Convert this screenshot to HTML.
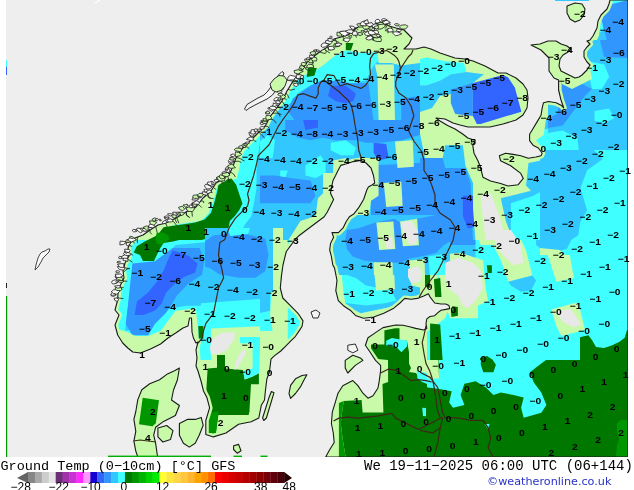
<!DOCTYPE html>
<html><head><meta charset="utf-8"><style>
html,body{margin:0;padding:0;background:#fff;width:634px;height:490px;overflow:hidden;position:relative}
</style></head><body>
<svg width="634" height="490" viewBox="0 0 634 490" style="position:absolute;left:0;top:0">
<defs><clipPath id="land"><polygon points="269.4,372.2 266.9,378.8 266.1,385.3 265.3,391.8 264.5,400.0 261.3,405.3 258.8,418.0 251.2,421.7 238.6,424.3 226.0,433.0 213.4,436.9 205.8,434.4 205.8,430.6 205.8,420.5 209.6,407.9 207.0,397.8 203.5,391.0 201.0,381.0 198.0,371.0 196.0,366.0 197.0,358.0 196.0,350.0 198.0,342.0 196.0,343.0 193.4,338.0 192.0,332.0 191.5,318.0 189.5,318.0 188.0,326.0 183.0,328.0 175.7,333.0 168.0,338.0 160.6,344.0 150.5,349.0 140.4,353.0 132.8,352.0 127.8,348.0 122.7,343.0 117.7,335.0 115.0,325.0 119.0,315.0 115.0,310.0 117.7,300.0 118.0,293.0 120.0,286.0 124.0,278.0 123.0,271.0 125.0,263.0 129.0,256.0 128.0,248.0 130.0,243.0 135.0,238.0 143.0,235.0 150.0,230.0 158.0,225.0 166.0,223.0 176.0,218.0 186.0,212.0 196.0,207.0 203.0,198.0 211.0,191.0 216.0,183.0 223.0,179.0 230.0,173.0 233.0,166.0 236.0,158.0 241.2,149.8 247.3,143.7 253.5,137.6 259.6,131.4 265.7,125.3 269.8,117.1 275.9,109.0 282.0,100.8 287.0,91.0 293.4,80.5 301.0,70.4 308.5,60.3 318.6,52.7 326.0,48.0 334.0,39.0 348.0,35.0 356.0,28.0 366.0,24.0 372.0,24.0 373.0,40.0 375.0,24.0 381.0,22.0 389.0,26.0 396.0,28.0 404.0,30.0 412.0,38.0 409.0,44.0 404.0,49.0 416.0,49.0 424.0,47.0 431.0,49.0 440.0,53.0 455.0,58.0 465.0,59.0 473.0,61.0 485.0,66.0 498.0,73.0 506.0,73.0 516.0,78.0 523.0,84.0 527.0,90.0 528.0,98.0 527.0,108.0 523.0,115.0 516.0,120.0 503.0,124.0 490.0,127.0 478.0,127.0 468.0,127.0 460.0,125.0 453.0,123.0 445.0,119.0 436.0,118.0 440.0,121.0 447.6,125.4 455.0,129.0 462.7,134.0 467.8,138.0 475.3,140.6 472.8,145.6 474.0,153.2 477.9,160.8 480.4,167.0 482.9,177.2 490.5,181.0 500.6,183.5 508.0,186.0 518.2,184.7 523.3,178.4 520.8,173.4 510.7,165.8 500.6,160.8 499.3,155.7 505.6,153.2 513.2,154.4 520.8,155.7 528.3,158.2 535.9,157.0 541.0,155.7 542.2,153.2 538.4,148.0 533.4,145.6 529.6,140.6 529.6,134.3 533.4,128.0 537.2,121.6 541.0,115.3 542.2,107.8 543.5,102.7 548.5,101.5 556.1,102.7 561.1,105.2 563.7,107.8 561.0,100.0 558.6,90.0 558.6,80.0 554.0,78.0 549.0,71.0 549.0,58.0 541.0,50.0 531.0,45.0 540.0,44.0 548.0,41.0 556.0,41.0 561.0,44.0 567.0,46.0 571.0,49.0 568.0,52.0 563.0,55.0 560.0,59.0 559.0,66.0 561.0,71.0 565.0,73.0 571.0,76.0 575.0,78.0 579.0,77.0 582.0,75.0 587.0,70.0 590.0,65.0 587.0,62.0 584.0,57.0 584.0,51.0 587.0,47.0 590.0,44.0 587.0,41.0 590.0,40.0 593.0,36.0 597.0,28.0 598.0,21.0 601.0,15.0 607.0,9.0 609.0,4.0 610.0,0.0 628.0,0.0 628.0,457.0 325.7,457.0 329.5,450.0 334.2,442.5 333.3,433.0 331.4,423.5 332.3,412.2 335.2,402.7 338.0,393.2 342.8,385.7 352.8,380.6 357.9,385.6 362.9,393.2 368.0,398.2 373.0,395.7 378.0,388.0 379.3,380.6 380.6,370.5 380.6,365.4 375.5,360.4 370.5,352.8 365.4,345.2 368.0,337.7 375.5,332.6 383.0,327.6 395.7,325.0 403.0,325.2 409.5,326.8 415.8,328.4 423.7,330.0 426.8,328.4 426.0,323.6 426.8,318.9 430.0,316.5 434.7,315.7 437.9,312.6 441.0,310.2 445.7,309.4 449.7,308.6 449.0,305.5 445.7,304.0 441.0,304.0 434.7,303.0 430.0,296.8 428.4,293.7 423.7,296.0 417.4,298.4 411.0,299.2 404.7,298.4 400.0,303.0 393.8,308.2 383.8,313.3 373.7,317.0 363.6,318.3 356.0,315.8 351.0,310.8 343.4,305.7 338.3,300.7 335.8,290.6 337.0,280.5 334.5,267.9 332.8,265.0 331.3,256.2 329.7,250.0 330.5,243.6 333.6,237.3 332.0,232.6 338.4,232.6 343.1,227.9 346.2,221.5 349.4,216.8 354.1,213.7 358.9,207.4 363.6,199.5 366.8,190.0 368.4,187.0 371.0,185.6 374.7,183.0 373.5,175.5 371.0,168.0 366.0,163.0 360.9,160.4 353.3,161.6 345.7,164.0 340.7,165.4 338.0,170.5 335.6,175.5 333.0,180.6 331.8,186.0 330.5,193.2 333.6,199.5 330.5,205.8 327.3,212.0 324.2,216.8 317.9,221.5 311.5,226.3 305.2,231.0 298.9,235.7 294.2,240.5 291.0,245.2 286.3,251.5 284.7,257.8 283.0,265.0 281.5,275.4 280.3,288.0 282.8,298.0 290.4,305.7 298.0,313.3 303.0,320.9 302.0,326.5 298.8,331.4 295.5,336.3 290.6,341.2 285.7,346.1 280.8,351.0 274.3,355.9 271.0,359.2 270.2,365.7"/><polygon points="137.8,457.0 135.8,451.1 133.9,441.2 135.8,431.3 133.9,419.4 135.8,411.5 137.8,399.6 141.8,389.7 149.7,383.8 159.6,379.8 167.5,373.9 175.0,370.5 179.4,368.0 177.4,380.0 173.5,390.0 171.5,400.0 179.4,405.5 175.4,415.5 163.6,421.4 155.6,427.3 153.7,435.2 155.6,443.2 157.6,457.0"/><polygon points="179.4,423.4 187.3,419.4 195.2,419.4 201.2,417.4 203.2,425.3 199.2,435.2 195.2,443.2 189.3,447.1 183.4,443.2 179.4,435.2"/><polygon points="157.9,428.0 166.7,425.5 173.0,430.6 170.5,439.4 162.9,442.0 157.9,436.9"/><polygon points="271.4,391.5 274.0,392.7 266.4,418.0 263.8,420.5 262.6,418.0 268.9,397.8"/><polygon points="233.6,445.7 238.6,444.4 241.0,450.8 237.4,453.3 233.6,449.5"/><polygon points="290.6,385.3 295.5,378.8 302.0,375.5 306.9,374.7 303.7,380.4 300.4,386.9 295.5,393.5 290.6,398.4 289.0,393.5"/><polygon points="345.2,360.4 352.8,355.3 360.4,357.9 362.9,360.4 355.3,365.4 347.8,373.0 345.2,368.0"/><polygon points="567.0,6.0 575.0,3.0 582.0,4.0 585.0,9.0 584.0,15.0 580.0,20.0 575.0,22.0 570.0,19.0 567.0,13.0"/></clipPath><clipPath id="mapc"><rect x="6" y="0" width="622" height="457"/></clipPath><clipPath id="t0"><rect x="100" y="0" width="160" height="120"/></clipPath><clipPath id="t1"><rect x="260" y="0" width="160" height="120"/></clipPath><clipPath id="t2"><rect x="420" y="0" width="160" height="120"/></clipPath><clipPath id="t3"><rect x="580" y="0" width="48" height="120"/></clipPath><clipPath id="t4"><rect x="100" y="120" width="160" height="120"/></clipPath><clipPath id="t5"><rect x="260" y="120" width="160" height="120"/></clipPath><clipPath id="t6"><rect x="420" y="120" width="160" height="120"/></clipPath><clipPath id="t7"><rect x="580" y="120" width="48" height="120"/></clipPath><clipPath id="t8"><rect x="100" y="240" width="160" height="120"/></clipPath><clipPath id="t9"><rect x="260" y="240" width="160" height="120"/></clipPath><clipPath id="t10"><rect x="420" y="240" width="160" height="120"/></clipPath><clipPath id="t11"><rect x="580" y="240" width="48" height="120"/></clipPath><clipPath id="t12"><rect x="100" y="360" width="160" height="97"/></clipPath><clipPath id="t13"><rect x="260" y="360" width="160" height="97"/></clipPath><clipPath id="t14"><rect x="420" y="360" width="160" height="97"/></clipPath><clipPath id="t15"><rect x="580" y="360" width="48" height="97"/></clipPath><clipPath id="t16"><rect x="330" y="320" width="97" height="137"/></clipPath><clipPath id="t17"><rect x="333" y="215" width="117" height="60"/></clipPath><clipPath id="t18"><rect x="548" y="40" width="80" height="120"/></clipPath><clipPath id="t19"><rect x="205" y="228" width="78" height="64"/></clipPath><clipPath id="t20"><rect x="420" y="50" width="112" height="80"/></clipPath><clipPath id="t21"><rect x="540" y="150" width="88" height="105"/></clipPath></defs>
<rect x="6" y="0" width="622" height="457" fill="#eeeeee"/>
<g clip-path="url(#mapc)">
<g clip-path="url(#land)">
<rect x="0" y="0" width="634" height="457" fill="#c8faaa"/>
<g clip-path="url(#t0)">
<rect x="100" y="0" width="160" height="120" fill="#c8faaa"/>
<polygon points="250.0,112.0 262.0,100.0 262.0,122.0 245.0,122.0" fill="#40ffff"/>
</g>
<g clip-path="url(#t1)">
<rect x="260" y="0" width="160" height="120" fill="#32c8ff"/>
<polygon points="290.3,85.8 297.9,78.0 315.5,70.4 323.1,65.4 335.7,55.3 345.8,50.2 358.4,52.7 371.0,52.7 377.4,51.7 378.6,60.6 373.6,65.6 371.0,70.4 366.0,80.5 353.6,83.0 341.0,83.0 323.1,80.5 310.5,85.6 297.9,93.1 290.3,103.2 285.2,106.0 275.1,108.5 270.1,120.1 260.0,120.1 260.0,95.9 275.1,90.9" fill="#40ffff"/>
<polygon points="257.5,0.0 420.0,0.0 420.0,63.1 401.3,65.6 391.2,63.1 378.6,63.1 377.4,51.7 371.0,52.7 358.4,52.7 345.8,50.2 335.7,55.3 323.1,65.4 315.5,70.4 297.9,78.0 290.3,85.8 257.5,90.9" fill="#c8faaa"/>
<polygon points="374.8,64.4 393.8,64.4 395.0,121.1 378.6,121.1 377.4,75.7" fill="#c8faaa"/>
<polygon points="292.8,98.4 310.5,85.8 320.6,80.8 335.7,80.8 350.9,83.3 368.5,83.3 373.6,121.1 295.3,121.1 287.8,111.0" fill="#3296ff"/>
<polygon points="330.7,85.8 345.8,85.8 355.9,93.4 353.4,100.9 345.8,103.5 335.7,100.9 328.1,95.9" fill="#3264ff"/>
<polygon points="401.3,98.4 420.0,95.9 420.0,121.1 401.3,121.1" fill="#3296ff"/>
<polygon points="345.8,42.9 353.4,42.9 350.9,50.5 345.8,50.0" fill="#007800"/>
<polygon points="307.9,68.1 316.8,68.1 314.3,75.7 306.7,77.0" fill="#007800"/>
</g>
<g clip-path="url(#t2)">
<rect x="420" y="0" width="160" height="120" fill="#c8faaa"/>
<polygon points="420.0,60.6 440.2,58.0 465.4,60.6 467.9,70.7 483.1,70.7 483.1,75.7 465.4,80.8 450.3,85.8 435.1,88.3 420.0,88.3" fill="#40ffff"/>
<polygon points="435.1,75.7 465.4,73.2 483.1,73.2 503.3,75.7 500.8,80.8 483.1,83.3 470.5,85.8 457.9,88.3 447.8,95.9 447.8,106.0 435.1,108.5 430.1,100.9 420.0,98.4 420.0,88.3" fill="#32c8ff"/>
<polygon points="418.7,63.1 427.6,60.6 432.6,75.7 430.1,121.1 418.7,121.1" fill="#32c8ff"/>
<polygon points="447.8,88.3 470.5,83.3 503.3,78.2 505.8,85.8 498.2,85.8 483.1,88.3 470.5,95.9 465.4,106.0 465.4,120.1 450.3,120.1 447.8,106.0" fill="#3296ff"/>
<polygon points="470.5,88.3 503.3,77.0 513.4,83.3 520.9,111.0 490.7,113.6 473.0,118.6 465.4,111.0 470.5,95.9" fill="#3264ff"/>
<polygon points="430.1,106.0 460.4,106.0 470.5,118.6 541.1,111.0 541.1,121.1 430.1,121.1" fill="#c8faaa"/>
<polygon points="560.1,80.8 580.0,75.7 580.0,121.1 556.3,121.1 561.3,106.0" fill="#3296ff"/>
</g>
<g clip-path="url(#t3)">
<rect x="580" y="0" width="48" height="120" fill="#40ffff"/>
<polygon points="608.1,5.0 628.0,0.0 628.0,63.1 619.4,61.8 609.3,50.5 604.3,32.8 601.8,20.2" fill="#3296ff"/>
<polygon points="594.2,35.3 604.3,30.3 609.3,50.5 619.4,61.8 628.0,63.1 628.0,75.7 609.3,75.7 599.2,63.1 591.7,50.5" fill="#32c8ff"/>
<polygon points="579.0,0.0 604.3,0.0 601.8,10.1 599.2,25.2 599.2,35.3 591.7,50.5 589.1,60.6 594.2,73.2 594.2,83.3 579.0,83.3" fill="#c8faaa"/>
<polygon points="579.0,83.3 599.2,83.3 599.2,95.9 589.1,106.0 579.0,111.0" fill="#3296ff"/>
</g>
<g clip-path="url(#t4)">
<rect x="100" y="120" width="160" height="120" fill="#40ffff"/>
<polygon points="97.5,117.5 260.0,117.5 260.0,127.6 251.4,135.1 246.4,145.2 241.3,157.9 238.8,170.5 236.3,179.3 218.6,180.6 216.1,190.7 213.6,200.8 208.5,213.4 200.9,220.9 183.3,223.5 170.7,226.0 163.1,231.0 150.5,241.1 97.5,241.1" fill="#c8faaa"/>
<polygon points="260.0,140.2 260.0,241.1 241.3,241.1 243.8,226.0 251.4,215.9 253.9,203.3 256.5,188.1 256.5,170.5" fill="#32c8ff"/>
<polygon points="222.0,180.0 231.5,178.4 236.2,184.7 239.3,194.2 242.5,203.6 239.3,210.0 234.6,216.2 229.9,221.0 228.3,228.9 220.4,233.6 214.1,236.8 201.5,239.9 188.9,239.9 179.4,239.9 173.1,241.5 163.6,243.1 160.5,247.8 157.3,254.0 154.0,261.0 143.0,261.0 140.0,255.0 133.7,252.5 136.8,246.2 144.7,241.5 157.3,235.2 163.6,227.3 173.1,225.7 185.7,224.1 195.2,222.6 204.6,219.4 210.9,213.1 214.1,203.6 217.3,191.0 218.8,183.1" fill="#007800"/>
<polygon points="156.5,233.2 162.2,232.3 167.8,235.1 169.7,238.9 166.0,241.8 161.2,244.6 156.5,243.7 155.5,238.9" fill="#009600"/>
</g>
<g clip-path="url(#t5)">
<rect x="260" y="120" width="160" height="120" fill="#32c8ff"/>
<polygon points="285.2,118.7 420.0,118.7 420.0,135.1 401.3,140.2 381.1,142.7 366.0,142.7 355.9,140.2 335.7,140.2 323.1,137.7 310.5,140.2 297.9,137.7 285.2,130.1" fill="#3296ff"/>
<polygon points="302.9,118.7 318.0,118.7 318.0,127.6 305.4,130.1" fill="#3264ff"/>
<polygon points="373.6,142.7 386.2,144.0 388.7,157.9 378.6,160.4 373.6,152.8" fill="#3264ff"/>
<polygon points="330.7,142.7 345.8,140.2 355.9,147.8 353.4,155.3 340.8,155.3 330.7,150.3" fill="#40ffff"/>
<polygon points="305.4,165.4 320.6,155.3 325.6,162.9 325.6,173.0 315.5,178.0 305.4,175.5" fill="#40ffff"/>
<polygon points="280.2,170.5 287.8,170.5 285.2,178.0 280.2,178.0" fill="#40ffff"/>
<polygon points="258.7,142.7 267.6,135.1 275.1,140.2 272.6,157.9 258.7,157.9" fill="#40ffff"/>
<polygon points="258.7,175.5 275.1,175.5 290.3,178.0 310.5,180.6 315.5,195.7 310.5,203.3 285.2,203.3 258.7,203.3" fill="#3296ff"/>
<polygon points="371.0,165.4 421.5,162.9 421.5,241.1 371.0,241.1" fill="#3296ff"/>
<polygon points="395.0,141.5 412.7,140.2 413.9,166.7 397.5,167.9" fill="#c8faaa"/>
<polygon points="383.7,183.1 401.3,181.8 402.6,205.8 386.2,207.1" fill="#c8faaa"/>
<polygon points="376.1,220.9 393.8,222.2 393.8,241.1 376.1,241.1" fill="#c8faaa"/>
<polygon points="401.3,219.7 421.5,218.4 421.5,241.1 401.3,241.1" fill="#c8faaa"/>
<polygon points="333.2,160.4 345.8,157.9 345.8,241.1 287.8,241.1 300.4,220.9 315.5,215.9 318.0,198.2 323.1,193.2 323.1,173.0 333.2,173.0" fill="#c8faaa"/>
<polygon points="360.9,157.9 378.6,157.9 378.6,195.7 371.0,200.8 368.5,220.9 360.9,226.0 355.9,241.1 343.3,241.1 355.9,210.9 366.0,190.7" fill="#c8faaa"/>
</g>
<g clip-path="url(#t6)">
<rect x="420" y="120" width="160" height="120" fill="#32c8ff"/>
<polygon points="536.1,130.1 561.3,127.6 561.3,147.8 543.7,157.9 536.1,150.3" fill="#40ffff"/>
<polygon points="510.9,203.3 533.6,195.7 551.2,185.6 581.5,183.1 581.5,241.1 510.9,241.1" fill="#40ffff"/>
<polygon points="418.7,157.9 442.7,157.9 445.2,167.9 465.4,167.9 470.5,183.1 473.0,241.1 418.7,241.1" fill="#3296ff"/>
<polygon points="462.9,195.7 475.5,195.7 478.0,226.0 467.9,228.5 462.9,215.9" fill="#3264ff"/>
<polygon points="418.7,127.6 435.1,118.7 546.2,118.7 543.7,135.1 536.1,140.2 546.2,152.8 541.1,160.4 528.5,162.9 526.0,185.6 531.0,190.7 500.8,198.2 505.8,220.9 513.4,241.1 475.5,241.1 473.0,208.3 473.0,183.1 465.4,165.4 462.9,145.2 445.2,145.2 442.7,157.9 425.0,157.9" fill="#c8faaa"/>
</g>
<g clip-path="url(#t7)">
<rect x="580" y="120" width="48" height="120" fill="#40ffff"/>
<polygon points="579.0,118.7 606.8,118.7 589.1,135.1 591.7,145.2 601.8,160.4 586.6,170.5 581.6,185.6 586.6,203.3 579.0,215.9 576.5,226.0 579.0,241.1" fill="#32c8ff"/>
</g>
<g clip-path="url(#t8)">
<rect x="100" y="240" width="160" height="120" fill="#40ffff"/>
<polygon points="130.2,288.0 145.3,275.4 160.5,260.3 175.6,245.1 228.6,240.1 271.5,235.0 271.5,300.7 226.1,305.7 200.9,305.7 185.7,305.7 160.5,310.8 142.8,325.9 125.1,330.9" fill="#32c8ff"/>
<polygon points="132.4,263.5 154.9,261.2 172.8,248.0 199.7,248.0 204.2,261.2 202.0,274.7 188.5,283.6 177.3,294.9 170.6,306.1 166.1,312.8 154.9,324.0 148.1,335.2 132.4,335.2 125.7,324.0 127.9,306.1 130.2,283.6" fill="#3296ff"/>
<polygon points="172.8,250.2 188.5,255.7 197.5,263.5 195.2,272.4 184.0,276.9 175.0,283.6 166.1,292.6 161.6,303.8 154.9,310.6 143.6,315.1 134.7,315.1 136.9,301.6 148.1,292.6 157.1,281.4 163.8,270.2 168.3,259.0" fill="#3264ff"/>
<polygon points="228.6,255.2 251.3,255.2 251.3,280.5 228.6,280.5" fill="#3296ff"/>
<polygon points="200.9,303.2 271.5,298.1 271.5,363.8 200.9,363.8" fill="#40ffff"/>
<polygon points="99.9,325.9 125.1,330.9 135.2,336.0 147.9,336.0 160.5,330.9 175.6,310.8 195.8,308.2 198.3,330.9 200.9,363.8 99.9,363.8" fill="#c8faaa"/>
<polygon points="210.9,328.4 271.5,325.9 271.5,363.8 210.9,363.8" fill="#c8faaa"/>
<polygon points="198.3,325.9 203.4,325.9 203.4,338.5 198.8,338.5" fill="#007800"/>
<polygon points="222.0,180.0 231.5,178.4 236.2,184.7 239.3,194.2 242.5,203.6 239.3,210.0 234.6,216.2 229.9,221.0 228.3,228.9 220.4,233.6 214.1,236.8 201.5,239.9 188.9,239.9 179.4,239.9 173.1,241.5 163.6,243.1 160.5,247.8 157.3,254.0 154.0,261.0 143.0,261.0 140.0,255.0 133.7,252.5 136.8,246.2 144.7,241.5 157.3,235.2 163.6,227.3 173.1,225.7 185.7,224.1 195.2,222.6 204.6,219.4 210.9,213.1 214.1,203.6 217.3,191.0 218.8,183.1" fill="#007800"/>
<polygon points="156.5,233.2 162.2,232.3 167.8,235.1 169.7,238.9 166.0,241.8 161.2,244.6 156.5,243.7 155.5,238.9" fill="#009600"/>
<polygon points="217.0,355.1 225.0,355.1 225.0,368.5 243.0,370.0 244.7,379.6 252.6,376.4 258.9,373.3 258.9,384.3 251.0,384.3 249.4,412.0 211.5,412.0 206.0,395.4 207.6,368.5 217.0,367.8" fill="#007800"/>
<polygon points="240.0,337.0 268.3,337.0 267.5,341.7 260.4,343.3 258.9,373.3 252.6,376.4 244.7,379.6 243.0,370.9 252.6,368.5 252.6,343.3 240.0,343.3" fill="#40ffff"/>
</g>
<g clip-path="url(#t9)">
<rect x="260" y="240" width="160" height="120" fill="#40ffff"/>
<polygon points="258.7,270.3 270.1,272.8 270.1,310.7 258.7,313.2" fill="#32c8ff"/>
<polygon points="270.1,238.7 287.8,238.7 287.8,361.1 258.7,361.1 258.7,330.9 272.6,330.9 270.1,315.7 272.6,265.2" fill="#c8faaa"/>
<polygon points="323.1,238.7 421.5,238.7 421.5,300.6 386.2,308.1 360.9,313.2 323.1,313.2" fill="#32c8ff"/>
<polygon points="345.8,238.7 378.6,238.7 378.6,250.1 396.3,255.1 421.5,255.1 421.5,265.2 396.3,265.2 376.1,262.7 360.9,260.2 345.8,255.1" fill="#3296ff"/>
<polygon points="340.8,272.8 355.9,277.9 366.0,285.4 391.2,290.5 396.3,300.6 386.2,303.1 366.0,305.6 345.8,303.1 340.8,290.5" fill="#40ffff"/>
<polygon points="323.1,238.7 338.2,238.7 340.8,265.2 343.3,290.5 345.8,305.6 360.9,313.2 386.2,308.1 421.5,298.0 421.5,323.3 323.1,323.3" fill="#c8faaa"/>
<polygon points="373.6,265.2 393.8,264.0 395.0,289.2 376.1,290.5" fill="#c8faaa"/>
<polygon points="378.6,238.7 396.3,238.7 397.5,250.1 379.9,250.1" fill="#c8faaa"/>
<polygon points="408.9,262.7 421.5,260.2 421.5,287.9 411.4,285.4" fill="#c8faaa"/>
<polygon points="335.7,323.3 421.5,323.3 421.5,361.1 335.7,361.1" fill="#c8faaa"/>
<polygon points="383.7,330.9 398.8,328.3 400.1,338.4 406.4,340.9 407.6,351.0 401.3,361.1 371.0,361.1 371.0,346.0 383.7,340.9" fill="#007800"/>
<polygon points="386.2,339.7 400.1,338.4 406.4,340.9 407.6,351.0 396.3,351.0 386.2,346.0" fill="#40ffff"/>
</g>
<g clip-path="url(#t10)">
<rect x="420" y="240" width="160" height="120" fill="#40ffff"/>
<polygon points="418.7,228.7 475.5,228.7 475.5,245.1 460.4,250.2 435.1,252.7 418.7,252.7" fill="#3296ff"/>
<polygon points="418.7,245.1 475.5,245.1 475.5,257.8 418.7,257.8" fill="#32c8ff"/>
<polygon points="536.1,228.7 581.5,228.7 581.5,250.2 546.2,252.7 536.1,245.1" fill="#32c8ff"/>
<polygon points="435.1,255.2 460.4,252.7 483.1,260.3 485.6,288.0 488.1,300.7 478.0,305.7 478.0,318.3 450.3,318.3 445.2,305.7 440.2,293.1 437.7,267.9" fill="#c8faaa"/>
<polygon points="407.4,259.0 435.1,257.8 440.2,293.1 447.8,310.8 445.2,318.3 435.1,325.9 407.4,325.9" fill="#c8faaa"/>
<polygon points="475.5,228.7 515.9,228.7 526.0,250.2 532.3,275.4 508.3,281.7 500.8,260.3 493.2,245.1 480.6,245.1" fill="#c8faaa"/>
<polygon points="508.3,281.7 532.3,275.4 536.1,280.5 531.0,290.6 520.9,291.8 510.9,285.5" fill="#32c8ff"/>
<polygon points="547.4,254.0 568.9,250.2 573.9,277.9 556.3,281.7" fill="#c8faaa"/>
<polygon points="551.2,309.5 573.9,303.2 581.5,303.2 581.5,330.9 561.3,336.0 556.3,325.9" fill="#c8faaa"/>
<polygon points="425.0,272.9 430.1,274.2 430.1,288.0 425.0,286.8" fill="#007800"/>
<polygon points="433.9,279.2 440.2,277.9 441.5,296.9 435.1,296.9" fill="#007800"/>
<polygon points="450.3,305.7 457.9,307.0 457.9,315.8 451.5,317.1" fill="#007800"/>
<polygon points="430.1,323.4 440.2,324.6 442.7,361.2 430.1,361.2" fill="#007800"/>
<polygon points="486.9,265.3 491.9,265.3 491.9,272.9 487.6,272.9" fill="#007800"/>
<polygon points="480.0,358.0 487.0,356.0 496.0,362.0 494.0,372.0 484.0,374.0 480.0,366.0" fill="#007800"/>
</g>
<g clip-path="url(#t11)">
<rect x="580" y="240" width="48" height="120" fill="#40ffff"/>
<polygon points="551.5,309.1 578.6,304.0 585.1,329.8 559.2,336.3" fill="#c8faaa"/>
<polygon points="578.0,337.8 583.0,336.5 588.4,335.2 592.3,340.4 596.0,346.9 604.0,348.1 611.7,345.6 619.5,341.7 624.7,337.8 627.0,330.0 630.0,330.0 630.0,370.0 578.0,370.0" fill="#007800"/>
</g>
<g clip-path="url(#t12)">
<rect x="100" y="360" width="160" height="97" fill="#c8faaa"/>
<polygon points="217.0,355.1 225.0,355.1 225.0,368.5 243.0,370.0 244.7,379.6 252.6,376.4 258.9,373.3 258.9,384.3 251.0,384.3 249.4,412.0 211.5,412.0 206.0,395.4 207.6,368.5 217.0,367.8" fill="#007800"/>
<polygon points="240.0,337.0 268.3,337.0 267.5,341.7 260.4,343.3 258.9,373.3 252.6,376.4 244.7,379.6 243.0,370.9 252.6,368.5 252.6,343.3 240.0,343.3" fill="#40ffff"/>
<polygon points="211.5,411.0 249.4,411.0 248.7,415.0 218.4,415.0 215.9,433.0 207.0,435.6 209.6,413.0" fill="#007800"/>
<polygon points="208.3,413.0 218.4,411.6 215.9,433.0 207.0,434.4" fill="#009600"/>
<polygon points="142.7,397.8 159.0,400.3 155.3,426.8 139.0,424.3" fill="#009600"/>
</g>
<g clip-path="url(#t13)">
<rect x="260" y="360" width="160" height="97" fill="#c8faaa"/>
<polygon points="384.4,328.5 399.5,327.6 399.5,340.8 407.1,340.8 409.0,352.2 409.0,363.5 414.6,369.2 418.4,376.8 426.0,380.6 433.6,384.4 441.1,384.4 441.1,452.5 383.4,452.5 383.4,376.8 388.1,373.0 388.1,359.7 374.9,358.8 371.1,352.2 371.1,344.6 384.4,344.6" fill="#007800"/>
<polygon points="338.9,401.4 360.7,399.5 361.6,410.1 338.0,410.1" fill="#007800"/>
<polygon points="339.0,400.0 380.0,395.0 380.0,460.0 339.0,460.0" fill="#007800"/>
<polygon points="333.0,418.0 339.0,404.0 346.5,410.0 346.5,460.0 333.0,460.0" fill="#009600"/>
<polygon points="417.5,376.8 426.0,378.7 441.1,382.5 441.1,388.1 426.0,386.2 417.5,382.5" fill="#40ffff"/>
</g>
<g clip-path="url(#t14)">
<rect x="420" y="360" width="160" height="97" fill="#007800"/>
<polygon points="437.9,335.7 561.5,335.7 561.5,352.1 546.4,359.7 536.3,367.3 530.0,372.3 533.8,382.4 541.3,392.5 546.4,405.1 541.3,412.7 523.7,417.8 521.1,407.7 523.7,397.6 513.6,395.0 500.9,392.5 493.4,395.0 485.8,387.5 475.7,381.2 464.4,383.7 460.6,395.0 464.4,405.1 453.0,407.7 449.2,402.6 451.7,391.3 437.9,388.7 427.8,387.5 418.9,381.2 418.9,374.9 439.1,377.4" fill="#40ffff"/>
<polygon points="480.8,355.9 490.9,357.2 495.9,364.8 493.4,372.3 483.3,372.3 480.8,364.8" fill="#007800"/>
<polygon points="407.6,335.7 422.7,335.7 427.8,352.1 437.9,352.1 439.1,378.6 418.9,378.6 417.7,367.3 410.1,362.2 407.6,352.1" fill="#c8faaa"/>
<polygon points="421.5,407.7 426.5,408.2 426.5,416.5 422.2,415.7" fill="#40ffff"/>
<polygon points="484.5,424.1 489.6,424.1 487.8,429.1" fill="#40ffff"/>
</g>
<g clip-path="url(#t15)">
<rect x="580" y="360" width="48" height="97" fill="#007800"/>
<polygon points="617.0,423.0 621.0,420.0 628.0,420.0 628.0,441.5 620.0,441.5 617.0,432.0" fill="#009600"/>
<polygon points="628.0,430.0 622.0,432.0 617.0,445.0 616.0,457.0 628.0,457.0" fill="#009600"/>
</g>
<g clip-path="url(#t16)">
<rect x="330" y="320" width="97" height="137" fill="#c8faaa"/>
<polygon points="384.4,328.5 399.5,327.6 399.5,340.8 407.0,340.8 409.0,352.2 409.0,363.5 411.0,368.0 409.0,372.0 416.0,373.0 420.0,379.0 440.0,386.0 440.0,457.0 345.6,457.0 342.7,438.9 340.8,423.8 341.8,414.3 343.7,401.0 361.6,400.1 362.6,412.4 383.4,412.4 382.5,384.0 388.1,382.1 388.1,373.0 388.0,360.0 375.0,358.8 371.0,352.0 371.0,344.6 384.4,344.6" fill="#007800"/>
<polygon points="386.2,340.8 391.9,338.0 407.0,340.8 407.0,346.5 401.4,352.2 395.7,346.5 386.2,345.6" fill="#40ffff"/>
<polygon points="416.5,370.8 426.0,372.7 433.6,378.4 440.0,380.2 440.0,387.8 431.7,385.9 422.2,382.1 417.5,378.4" fill="#40ffff"/>
<polygon points="338.9,403.0 343.7,401.0 341.8,414.3 340.8,423.8 342.7,438.9 345.6,457.0 338.9,457.0" fill="#009600"/>
<polygon points="422.2,407.7 426.0,408.0 426.0,416.2 423.0,416.0" fill="#40ffff"/>
</g>
<g clip-path="url(#t17)">
<rect x="333" y="215" width="117" height="60" fill="#32c8ff"/>
<polygon points="347.0,230.1 358.4,228.2 375.4,222.6 394.4,218.8 400.0,222.6 417.1,218.8 436.0,215.0 450.0,215.0 450.0,241.5 443.6,245.3 436.0,252.9 420.9,256.6 409.5,258.5 401.9,262.3 386.8,263.3 377.3,262.3 364.1,260.4 352.7,256.6 347.0,249.1 345.1,239.6" fill="#3296ff"/>
<polygon points="376.4,222.6 393.4,221.6 395.3,249.1 379.2,250.0" fill="#c8faaa"/>
<polygon points="400.0,221.6 417.1,218.8 419.0,245.3 402.9,246.2" fill="#c8faaa"/>
<polygon points="373.5,262.3 392.5,262.3 393.0,276.0 374.0,276.0" fill="#c8faaa"/>
<polygon points="409.5,260.4 424.6,259.0 425.0,276.0 410.0,276.0" fill="#c8faaa"/>
<polygon points="428.4,256.6 443.6,254.0 446.0,276.0 430.0,276.0" fill="#40ffff"/>
</g>
<g clip-path="url(#t18)">
<rect x="548" y="40" width="80" height="120" fill="#32c8ff"/>
<polygon points="600.0,40.0 628.0,40.0 628.0,58.0 604.0,57.0" fill="#3296ff"/>
<polygon points="587.1,66.9 592.0,62.0 604.3,64.5 609.2,76.7 601.8,88.9 592.0,88.9" fill="#40ffff"/>
<polygon points="558.0,78.0 577.4,81.6 587.1,86.5 592.0,88.9 584.7,96.3 577.4,106.1 570.0,115.8 562.7,125.6 548.0,128.1 548.0,118.3 557.8,113.4 558.0,101.2" fill="#3296ff"/>
<polygon points="560.0,70.0 589.0,63.0 592.0,79.0 572.0,89.0 562.0,84.0" fill="#c8faaa"/>
<polygon points="548.0,38.0 576.0,38.0 578.0,58.0 570.0,70.0 560.0,79.0 548.0,80.0" fill="#c8faaa"/>
<polygon points="548.0,133.0 562.7,130.5 577.4,137.9 580.0,160.0 548.0,160.0" fill="#40ffff"/>
<polygon points="594.5,111.0 609.2,108.5 614.0,118.3 604.3,123.2 594.5,120.7" fill="#40ffff"/>
</g>
<g clip-path="url(#t19)">
<rect x="205" y="228" width="78" height="64" fill="#32c8ff"/>
<polygon points="213.0,235.4 239.1,232.2 265.2,238.7 268.5,255.0 265.2,271.3 255.4,277.8 239.1,277.8 219.6,274.6 209.8,268.0 200.0,264.8 200.0,245.2" fill="#3296ff"/>
<polygon points="273.0,228.0 290.0,228.0 290.0,292.0 273.0,292.0" fill="#c8faaa"/>
<polygon points="228.0,228.0 250.0,228.0 248.0,234.0 230.0,236.0" fill="#40ffff"/>
</g>
<g clip-path="url(#t20)">
<rect x="420" y="50" width="112" height="80" fill="#c8faaa"/>
<polygon points="402.2,63.1 426.5,57.6 444.2,60.9 464.0,63.1 466.2,72.0 450.8,74.2 439.7,80.8 426.5,85.2 413.2,85.2 400.0,83.0" fill="#40ffff"/>
<polygon points="439.7,80.8 450.8,74.2 466.2,72.0 483.9,74.2 472.9,83.0 470.7,91.8 450.8,94.0 440.0,96.0 420.0,96.0 420.0,85.2 426.5,85.2" fill="#32c8ff"/>
<polygon points="450.8,89.6 472.9,83.0 472.9,116.1 455.2,113.9 450.8,102.9" fill="#3296ff"/>
<polygon points="472.9,83.0 506.0,74.2 514.8,87.4 521.4,111.7 477.3,124.9 472.9,116.1" fill="#3264ff"/>
<polygon points="420.0,96.0 440.0,96.0 432.0,108.0 420.0,112.0" fill="#32c8ff"/>
</g>
<g clip-path="url(#t21)">
<rect x="540" y="150" width="88" height="105" fill="#40ffff"/>
<polygon points="540.0,150.0 593.9,150.0 602.8,159.0 587.1,170.2 580.4,188.2 582.6,194.9 587.1,210.6 580.4,221.8 578.2,235.3 571.4,239.8 566.9,248.7 553.5,253.2 540.0,253.2" fill="#32c8ff"/>
<polygon points="540.0,248.0 560.0,250.0 567.0,257.0 540.0,257.0" fill="#c8faaa"/>
</g>
<polyline points="325.7,457.0 329.5,450.0 334.2,442.5 333.3,433.0 331.4,423.5 332.3,412.2 335.2,402.7 338.0,393.2 342.8,385.7 352.8,380.6 357.9,385.6 362.9,393.2 368.0,398.2 373.0,395.7 378.0,388.0 379.3,380.6 380.6,370.5 380.6,365.4 375.5,360.4 370.5,352.8 365.4,345.2 368.0,337.7 375.5,332.6 383.0,327.6 395.7,325.0 403.0,325.2 409.5,326.8 415.8,328.4 423.7,330.0 426.8,328.4 426.0,323.6 426.8,318.9 430.0,316.5 434.7,315.7 437.9,312.6 441.0,310.2 445.7,309.4 449.7,308.6 449.0,305.5 445.7,304.0 441.0,304.0 434.7,303.0 430.0,296.8 428.4,293.7 423.7,296.0 417.4,298.4 411.0,299.2 404.7,298.4 400.0,303.0 393.8,308.2 383.8,313.3 373.7,317.0 363.6,318.3 356.0,315.8 351.0,310.8 343.4,305.7 338.3,300.7 335.8,290.6 337.0,280.5 334.5,267.9 332.8,265.0 331.3,256.2 329.7,250.0 330.5,243.6 333.6,237.3 332.0,232.6 338.4,232.6 343.1,227.9 346.2,221.5 349.4,216.8 354.1,213.7 358.9,207.4 363.6,199.5 366.8,190.0 368.4,187.0 371.0,185.6 374.7,183.0 373.5,175.5 371.0,168.0 366.0,163.0 360.9,160.4 353.3,161.6 345.7,164.0 340.7,165.4 338.0,170.5 335.6,175.5 333.0,180.6 331.8,186.0 330.5,193.2 333.6,199.5 330.5,205.8 327.3,212.0 324.2,216.8 317.9,221.5 311.5,226.3 305.2,231.0 298.9,235.7 294.2,240.5 291.0,245.2 286.3,251.5 284.7,257.8 283.0,265.0 281.5,275.4 280.3,288.0 282.8,298.0 290.4,305.7 298.0,313.3 303.0,320.9 302.0,326.5 298.8,331.4 295.5,336.3 290.6,341.2 285.7,346.1 280.8,351.0 274.3,355.9 271.0,359.2 270.2,365.7 269.4,372.2 266.9,378.8 266.1,385.3 265.3,391.8 264.5,400.0 261.3,405.3 258.8,418.0 251.2,421.7 238.6,424.3 226.0,433.0 213.4,436.9 205.8,434.4 205.8,430.6 205.8,420.5 209.6,407.9 207.0,397.8 203.5,391.0 201.0,381.0 198.0,371.0 196.0,366.0 197.0,358.0 196.0,350.0 198.0,342.0 196.0,343.0 193.4,338.0 192.0,332.0 191.5,318.0 189.5,318.0 188.0,326.0 183.0,328.0 175.7,333.0 168.0,338.0 160.6,344.0 150.5,349.0 140.4,353.0 132.8,352.0 127.8,348.0 122.7,343.0 117.7,335.0 115.0,325.0 119.0,315.0 115.0,310.0 117.7,300.0 118.0,293.0 120.0,286.0 124.0,278.0 123.0,271.0 125.0,263.0 129.0,256.0 128.0,248.0 130.0,243.0 135.0,238.0 143.0,235.0 150.0,230.0 158.0,225.0 166.0,223.0 176.0,218.0 186.0,212.0 196.0,207.0 203.0,198.0 211.0,191.0 216.0,183.0 223.0,179.0 230.0,173.0 233.0,166.0 236.0,158.0 241.2,149.8 247.3,143.7 253.5,137.6 259.6,131.4 265.7,125.3 269.8,117.1 275.9,109.0 282.0,100.8 287.0,91.0 293.4,80.5 301.0,70.4 308.5,60.3 318.6,52.7 326.0,48.0 334.0,39.0 348.0,35.0 356.0,28.0 366.0,24.0 372.0,24.0 373.0,40.0 375.0,24.0 381.0,22.0 389.0,26.0 396.0,28.0 404.0,30.0 412.0,38.0 409.0,44.0 404.0,49.0 416.0,49.0 424.0,47.0 431.0,49.0 440.0,53.0 455.0,58.0 465.0,59.0 473.0,61.0 485.0,66.0 498.0,73.0 506.0,73.0 516.0,78.0 523.0,84.0 527.0,90.0 528.0,98.0 527.0,108.0 523.0,115.0 516.0,120.0 503.0,124.0 490.0,127.0 478.0,127.0 468.0,127.0 460.0,125.0 453.0,123.0 445.0,119.0 436.0,118.0 440.0,121.0 447.6,125.4 455.0,129.0 462.7,134.0 467.8,138.0 475.3,140.6 472.8,145.6 474.0,153.2 477.9,160.8 480.4,167.0 482.9,177.2 490.5,181.0 500.6,183.5 508.0,186.0 518.2,184.7 523.3,178.4 520.8,173.4 510.7,165.8 500.6,160.8 499.3,155.7 505.6,153.2 513.2,154.4 520.8,155.7 528.3,158.2 535.9,157.0 541.0,155.7 542.2,153.2 538.4,148.0 533.4,145.6 529.6,140.6 529.6,134.3 533.4,128.0 537.2,121.6 541.0,115.3 542.2,107.8 543.5,102.7 548.5,101.5 556.1,102.7 561.1,105.2 563.7,107.8 561.0,100.0 558.6,90.0 558.6,80.0 554.0,78.0 549.0,71.0 549.0,58.0 541.0,50.0 531.0,45.0 540.0,44.0 548.0,41.0 556.0,41.0 561.0,44.0 567.0,46.0 571.0,49.0 568.0,52.0 563.0,55.0 560.0,59.0 559.0,66.0 561.0,71.0 565.0,73.0 571.0,76.0 575.0,78.0 579.0,77.0 582.0,75.0 587.0,70.0 590.0,65.0 587.0,62.0 584.0,57.0 584.0,51.0 587.0,47.0 590.0,44.0 587.0,41.0 590.0,40.0 593.0,36.0 597.0,28.0 598.0,21.0 601.0,15.0 607.0,9.0 609.0,4.0 610.0,0.0" fill="none" stroke="#c8faaa" stroke-width="6" stroke-linejoin="round"/>
<polyline points="137.8,457.0 135.8,451.1 133.9,441.2 135.8,431.3 133.9,419.4 135.8,411.5 137.8,399.6 141.8,389.7 149.7,383.8 159.6,379.8 167.5,373.9 175.0,370.5 179.4,368.0 177.4,380.0 173.5,390.0 171.5,400.0 179.4,405.5 175.4,415.5 163.6,421.4 155.6,427.3 153.7,435.2 155.6,443.2" fill="none" stroke="#c8faaa" stroke-width="6" stroke-linejoin="round"/>
</g>
<polygon points="211.5,340.5 216.0,336.0 222.6,332.6 235.0,332.6 234.0,340.5 230.5,343.7 227.3,350.0 217.9,354.0 210.8,354.0 210.0,348.0" fill="#e8e8e8"/>
<polygon points="244.7,349.6 246.2,352.8 241.5,360.7 236.8,368.5 234.4,370.1 235.2,363.8 238.4,355.9 242.3,350.4" fill="#e8e8e8"/>
<polygon points="445.2,262.8 457.9,257.8 473.0,262.8 480.6,270.4 483.1,288.0 475.5,300.7 467.9,308.2 462.9,305.7 457.9,295.6 447.8,288.0 445.2,275.4" fill="#e8e8e8"/>
<polygon points="493.2,230.0 510.9,230.0 520.9,245.1 523.5,262.8 513.4,265.3 503.3,255.2 495.7,245.1" fill="#e8e8e8"/>
<polygon points="480.6,195.7 490.7,193.2 495.7,205.8 500.8,220.9 505.8,240.1 485.6,240.1 483.1,220.9" fill="#e8e8e8"/>
<polygon points="555.4,311.7 570.9,309.1 581.2,324.7 573.5,327.3 563.1,322.1" fill="#e8e8e8"/>
<polygon points="385.0,238.0 392.0,236.0 393.0,248.0 387.0,249.0" fill="#e8e8e8"/>
<polygon points="401.0,222.0 412.0,221.0 418.0,232.0 416.0,244.0 410.0,245.0 404.0,236.0" fill="#e8e8e8"/>
<polygon points="408.0,269.0 418.0,266.0 422.0,272.0 420.0,282.0 411.0,283.0 408.0,277.0" fill="#e8e8e8"/>
<polygon points="269.4,372.2 266.9,378.8 266.1,385.3 265.3,391.8 264.5,400.0 261.3,405.3 258.8,418.0 251.2,421.7 238.6,424.3 226.0,433.0 213.4,436.9 205.8,434.4 205.8,430.6 205.8,420.5 209.6,407.9 207.0,397.8 203.5,391.0 201.0,381.0 198.0,371.0 196.0,366.0 197.0,358.0 196.0,350.0 198.0,342.0 196.0,343.0 193.4,338.0 192.0,332.0 191.5,318.0 189.5,318.0 188.0,326.0 183.0,328.0 175.7,333.0 168.0,338.0 160.6,344.0 150.5,349.0 140.4,353.0 132.8,352.0 127.8,348.0 122.7,343.0 117.7,335.0 115.0,325.0 119.0,315.0 115.0,310.0 117.7,300.0 118.0,293.0 120.0,286.0 124.0,278.0 123.0,271.0 125.0,263.0 129.0,256.0 128.0,248.0 130.0,243.0 135.0,238.0 143.0,235.0 150.0,230.0 158.0,225.0 166.0,223.0 176.0,218.0 186.0,212.0 196.0,207.0 203.0,198.0 211.0,191.0 216.0,183.0 223.0,179.0 230.0,173.0 233.0,166.0 236.0,158.0 241.2,149.8 247.3,143.7 253.5,137.6 259.6,131.4 265.7,125.3 269.8,117.1 275.9,109.0 282.0,100.8 287.0,91.0 293.4,80.5 301.0,70.4 308.5,60.3 318.6,52.7 326.0,48.0 334.0,39.0 348.0,35.0 356.0,28.0 366.0,24.0 372.0,24.0 373.0,40.0 375.0,24.0 381.0,22.0 389.0,26.0 396.0,28.0 404.0,30.0 412.0,38.0 409.0,44.0 404.0,49.0 416.0,49.0 424.0,47.0 431.0,49.0 440.0,53.0 455.0,58.0 465.0,59.0 473.0,61.0 485.0,66.0 498.0,73.0 506.0,73.0 516.0,78.0 523.0,84.0 527.0,90.0 528.0,98.0 527.0,108.0 523.0,115.0 516.0,120.0 503.0,124.0 490.0,127.0 478.0,127.0 468.0,127.0 460.0,125.0 453.0,123.0 445.0,119.0 436.0,118.0 440.0,121.0 447.6,125.4 455.0,129.0 462.7,134.0 467.8,138.0 475.3,140.6 472.8,145.6 474.0,153.2 477.9,160.8 480.4,167.0 482.9,177.2 490.5,181.0 500.6,183.5 508.0,186.0 518.2,184.7 523.3,178.4 520.8,173.4 510.7,165.8 500.6,160.8 499.3,155.7 505.6,153.2 513.2,154.4 520.8,155.7 528.3,158.2 535.9,157.0 541.0,155.7 542.2,153.2 538.4,148.0 533.4,145.6 529.6,140.6 529.6,134.3 533.4,128.0 537.2,121.6 541.0,115.3 542.2,107.8 543.5,102.7 548.5,101.5 556.1,102.7 561.1,105.2 563.7,107.8 561.0,100.0 558.6,90.0 558.6,80.0 554.0,78.0 549.0,71.0 549.0,58.0 541.0,50.0 531.0,45.0 540.0,44.0 548.0,41.0 556.0,41.0 561.0,44.0 567.0,46.0 571.0,49.0 568.0,52.0 563.0,55.0 560.0,59.0 559.0,66.0 561.0,71.0 565.0,73.0 571.0,76.0 575.0,78.0 579.0,77.0 582.0,75.0 587.0,70.0 590.0,65.0 587.0,62.0 584.0,57.0 584.0,51.0 587.0,47.0 590.0,44.0 587.0,41.0 590.0,40.0 593.0,36.0 597.0,28.0 598.0,21.0 601.0,15.0 607.0,9.0 609.0,4.0 610.0,0.0 628.0,0.0 628.0,457.0 325.7,457.0 329.5,450.0 334.2,442.5 333.3,433.0 331.4,423.5 332.3,412.2 335.2,402.7 338.0,393.2 342.8,385.7 352.8,380.6 357.9,385.6 362.9,393.2 368.0,398.2 373.0,395.7 378.0,388.0 379.3,380.6 380.6,370.5 380.6,365.4 375.5,360.4 370.5,352.8 365.4,345.2 368.0,337.7 375.5,332.6 383.0,327.6 395.7,325.0 403.0,325.2 409.5,326.8 415.8,328.4 423.7,330.0 426.8,328.4 426.0,323.6 426.8,318.9 430.0,316.5 434.7,315.7 437.9,312.6 441.0,310.2 445.7,309.4 449.7,308.6 449.0,305.5 445.7,304.0 441.0,304.0 434.7,303.0 430.0,296.8 428.4,293.7 423.7,296.0 417.4,298.4 411.0,299.2 404.7,298.4 400.0,303.0 393.8,308.2 383.8,313.3 373.7,317.0 363.6,318.3 356.0,315.8 351.0,310.8 343.4,305.7 338.3,300.7 335.8,290.6 337.0,280.5 334.5,267.9 332.8,265.0 331.3,256.2 329.7,250.0 330.5,243.6 333.6,237.3 332.0,232.6 338.4,232.6 343.1,227.9 346.2,221.5 349.4,216.8 354.1,213.7 358.9,207.4 363.6,199.5 366.8,190.0 368.4,187.0 371.0,185.6 374.7,183.0 373.5,175.5 371.0,168.0 366.0,163.0 360.9,160.4 353.3,161.6 345.7,164.0 340.7,165.4 338.0,170.5 335.6,175.5 333.0,180.6 331.8,186.0 330.5,193.2 333.6,199.5 330.5,205.8 327.3,212.0 324.2,216.8 317.9,221.5 311.5,226.3 305.2,231.0 298.9,235.7 294.2,240.5 291.0,245.2 286.3,251.5 284.7,257.8 283.0,265.0 281.5,275.4 280.3,288.0 282.8,298.0 290.4,305.7 298.0,313.3 303.0,320.9 302.0,326.5 298.8,331.4 295.5,336.3 290.6,341.2 285.7,346.1 280.8,351.0 274.3,355.9 271.0,359.2 270.2,365.7" fill="none" stroke="#1a1a1a" stroke-width="1.1" stroke-linejoin="round"/>
<polygon points="137.8,457.0 135.8,451.1 133.9,441.2 135.8,431.3 133.9,419.4 135.8,411.5 137.8,399.6 141.8,389.7 149.7,383.8 159.6,379.8 167.5,373.9 175.0,370.5 179.4,368.0 177.4,380.0 173.5,390.0 171.5,400.0 179.4,405.5 175.4,415.5 163.6,421.4 155.6,427.3 153.7,435.2 155.6,443.2 157.6,457.0" fill="none" stroke="#1a1a1a" stroke-width="1.1" stroke-linejoin="round"/>
<polygon points="179.4,423.4 187.3,419.4 195.2,419.4 201.2,417.4 203.2,425.3 199.2,435.2 195.2,443.2 189.3,447.1 183.4,443.2 179.4,435.2" fill="none" stroke="#1a1a1a" stroke-width="1.1" stroke-linejoin="round"/>
<polygon points="157.9,428.0 166.7,425.5 173.0,430.6 170.5,439.4 162.9,442.0 157.9,436.9" fill="none" stroke="#1a1a1a" stroke-width="1.1" stroke-linejoin="round"/>
<polygon points="271.4,391.5 274.0,392.7 266.4,418.0 263.8,420.5 262.6,418.0 268.9,397.8" fill="none" stroke="#1a1a1a" stroke-width="1.1" stroke-linejoin="round"/>
<polygon points="233.6,445.7 238.6,444.4 241.0,450.8 237.4,453.3 233.6,449.5" fill="none" stroke="#1a1a1a" stroke-width="1.1" stroke-linejoin="round"/>
<polygon points="290.6,385.3 295.5,378.8 302.0,375.5 306.9,374.7 303.7,380.4 300.4,386.9 295.5,393.5 290.6,398.4 289.0,393.5" fill="none" stroke="#1a1a1a" stroke-width="1.1" stroke-linejoin="round"/>
<polygon points="345.2,360.4 352.8,355.3 360.4,357.9 362.9,360.4 355.3,365.4 347.8,373.0 345.2,368.0" fill="none" stroke="#1a1a1a" stroke-width="1.1" stroke-linejoin="round"/>
<polygon points="567.0,6.0 575.0,3.0 582.0,4.0 585.0,9.0 584.0,15.0 580.0,20.0 575.0,22.0 570.0,19.0 567.0,13.0" fill="none" stroke="#1a1a1a" stroke-width="1.1" stroke-linejoin="round"/>
<polyline points="117.8,297.6 119.3,298.1 123.4,298.6" fill="none" stroke="#1a1a1a" stroke-width="0.8"/>
<polyline points="119.2,288.9 121.1,287.8 123.5,287.5" fill="none" stroke="#1a1a1a" stroke-width="0.8"/>
<polyline points="122.1,281.9 123.2,280.9 127.2,281.3" fill="none" stroke="#1a1a1a" stroke-width="0.8"/>
<polyline points="123.2,272.4 126.9,269.2 129.2,268.1" fill="none" stroke="#1a1a1a" stroke-width="0.8"/>
<polyline points="123.9,267.4 128.3,268.7 130.0,268.7" fill="none" stroke="#1a1a1a" stroke-width="0.8"/>
<polyline points="127.1,259.2 129.3,260.1 132.5,262.2" fill="none" stroke="#1a1a1a" stroke-width="0.8"/>
<polyline points="128.8,254.2 131.4,253.8 132.7,255.5" fill="none" stroke="#1a1a1a" stroke-width="0.8"/>
<polyline points="129.6,244.1 129.8,245.6 132.1,246.6" fill="none" stroke="#1a1a1a" stroke-width="0.8"/>
<polyline points="131.3,241.7 133.5,241.7 134.3,243.4" fill="none" stroke="#1a1a1a" stroke-width="0.8"/>
<polyline points="137.9,236.9 137.3,238.9 137.4,242.9" fill="none" stroke="#1a1a1a" stroke-width="0.8"/>
<polyline points="149.8,230.1 150.2,232.4 151.7,234.3" fill="none" stroke="#1a1a1a" stroke-width="0.8"/>
<polyline points="155.8,226.4 156.5,229.9 157.4,233.1" fill="none" stroke="#1a1a1a" stroke-width="0.8"/>
<polyline points="164.6,223.4 166.5,224.6 167.0,227.0" fill="none" stroke="#1a1a1a" stroke-width="0.8"/>
<polyline points="170.6,220.7 173.7,221.7 176.8,225.6" fill="none" stroke="#1a1a1a" stroke-width="0.8"/>
<polyline points="175.7,218.2 175.2,219.7 176.8,222.9" fill="none" stroke="#1a1a1a" stroke-width="0.8"/>
<polyline points="176.8,217.5 177.5,219.8 178.9,223.3" fill="none" stroke="#1a1a1a" stroke-width="0.8"/>
<polyline points="185.9,212.0 186.7,215.6 190.1,217.7" fill="none" stroke="#1a1a1a" stroke-width="0.8"/>
<polyline points="186.5,211.8 186.3,214.7 188.9,216.9" fill="none" stroke="#1a1a1a" stroke-width="0.8"/>
<polyline points="191.4,209.3 191.9,211.6 192.4,216.6" fill="none" stroke="#1a1a1a" stroke-width="0.8"/>
<polyline points="198.0,204.4 199.9,205.7 201.7,207.5" fill="none" stroke="#1a1a1a" stroke-width="0.8"/>
<polyline points="200.6,201.1 203.2,201.0 203.9,203.0" fill="none" stroke="#1a1a1a" stroke-width="0.8"/>
<polyline points="206.6,194.8 209.1,198.0 213.7,198.7" fill="none" stroke="#1a1a1a" stroke-width="0.8"/>
<polyline points="207.8,193.8 208.9,197.1 210.8,198.2" fill="none" stroke="#1a1a1a" stroke-width="0.8"/>
<polyline points="213.3,187.2 215.3,189.2 216.0,189.2" fill="none" stroke="#1a1a1a" stroke-width="0.8"/>
<polyline points="220.1,180.7 222.2,181.5 222.1,183.9" fill="none" stroke="#1a1a1a" stroke-width="0.8"/>
<polyline points="227.6,175.0 228.1,177.6 229.5,183.0" fill="none" stroke="#1a1a1a" stroke-width="0.8"/>
<polyline points="230.4,172.0 233.8,174.2 235.3,177.0" fill="none" stroke="#1a1a1a" stroke-width="0.8"/>
<polyline points="234.6,161.6 238.0,161.1 241.4,162.4" fill="none" stroke="#1a1a1a" stroke-width="0.8"/>
<polyline points="236.5,157.3 240.7,158.9 244.6,161.1" fill="none" stroke="#1a1a1a" stroke-width="0.8"/>
<polyline points="244.1,146.9 247.1,146.9 249.3,148.6" fill="none" stroke="#1a1a1a" stroke-width="0.8"/>
<polyline points="252.0,139.1 254.5,140.8 256.3,141.6" fill="none" stroke="#1a1a1a" stroke-width="0.8"/>
<polyline points="259.0,132.0 261.8,135.3 264.7,138.0" fill="none" stroke="#1a1a1a" stroke-width="0.8"/>
<polyline points="264.8,126.2 267.8,126.4 269.4,128.6" fill="none" stroke="#1a1a1a" stroke-width="0.8"/>
<polyline points="268.9,118.8 273.6,119.9 276.3,123.2" fill="none" stroke="#1a1a1a" stroke-width="0.8"/>
<polyline points="272.6,113.3 276.6,113.1 281.4,114.5" fill="none" stroke="#1a1a1a" stroke-width="0.8"/>
<polyline points="275.4,109.7 278.8,113.4 280.1,116.7" fill="none" stroke="#1a1a1a" stroke-width="0.8"/>
<polyline points="277.4,106.9 280.4,108.1 280.5,107.6" fill="none" stroke="#1a1a1a" stroke-width="0.8"/>
<polyline points="281.8,101.1 284.8,105.1 285.4,106.8" fill="none" stroke="#1a1a1a" stroke-width="0.8"/>
<polyline points="284.3,96.3 283.9,98.6 286.6,99.3" fill="none" stroke="#1a1a1a" stroke-width="0.8"/>
<polyline points="286.0,93.0 287.7,95.3 289.1,98.2" fill="none" stroke="#1a1a1a" stroke-width="0.8"/>
<polyline points="288.0,89.4 291.0,90.2 295.1,89.0" fill="none" stroke="#1a1a1a" stroke-width="0.8"/>
<polyline points="292.1,82.7 295.5,83.5 299.0,84.0" fill="none" stroke="#1a1a1a" stroke-width="0.8"/>
<polyline points="294.4,79.2 297.1,81.3 300.5,84.9" fill="none" stroke="#1a1a1a" stroke-width="0.8"/>
<polyline points="299.5,72.4 299.4,74.3 301.5,76.2" fill="none" stroke="#1a1a1a" stroke-width="0.8"/>
<polyline points="304.2,66.1 306.3,69.7 310.4,70.6" fill="none" stroke="#1a1a1a" stroke-width="0.8"/>
<polyline points="307.8,61.2 309.9,62.8 314.0,62.7" fill="none" stroke="#1a1a1a" stroke-width="0.8"/>
<polyline points="312.1,57.6 312.5,61.8 313.0,66.0" fill="none" stroke="#1a1a1a" stroke-width="0.8"/>
<polyline points="314.3,55.9 314.3,58.5 316.8,60.0" fill="none" stroke="#1a1a1a" stroke-width="0.8"/>
<polyline points="324.1,49.2 327.3,51.4 330.0,53.1" fill="none" stroke="#1a1a1a" stroke-width="0.8"/>
<polyline points="327.0,46.8 328.8,49.2 328.3,50.5" fill="none" stroke="#1a1a1a" stroke-width="0.8"/>
<polyline points="333.3,39.7 337.8,41.9 339.3,42.4" fill="none" stroke="#1a1a1a" stroke-width="0.8"/>
<polyline points="335.2,38.6 336.9,43.1 337.1,46.8" fill="none" stroke="#1a1a1a" stroke-width="0.8"/>
<polyline points="342.7,36.5 343.6,38.8 344.9,38.7" fill="none" stroke="#1a1a1a" stroke-width="0.8"/>
<polyline points="350.6,32.7 355.0,34.3 356.5,37.6" fill="none" stroke="#1a1a1a" stroke-width="0.8"/>
<polyline points="355.0,28.9 355.6,28.0 358.4,29.8" fill="none" stroke="#1a1a1a" stroke-width="0.8"/>
<polyline points="356.1,28.0 354.3,31.0 355.4,31.6" fill="none" stroke="#1a1a1a" stroke-width="0.8"/>
<polyline points="361.8,25.7 363.6,28.7 367.4,30.5" fill="none" stroke="#1a1a1a" stroke-width="0.8"/>
<polyline points="371.8,24.0 373.5,24.4 374.0,27.8" fill="none" stroke="#1a1a1a" stroke-width="0.8"/>
<polyline points="372.1,25.3 368.9,28.7 365.0,29.2" fill="none" stroke="#1a1a1a" stroke-width="0.8"/>
<polyline points="372.6,33.9 369.0,36.7 367.2,37.5" fill="none" stroke="#1a1a1a" stroke-width="0.8"/>
<polyline points="372.7,35.1 369.7,36.9 367.1,36.2" fill="none" stroke="#1a1a1a" stroke-width="0.8"/>
<polyline points="373.5,36.2 376.4,36.0 380.7,35.5" fill="none" stroke="#1a1a1a" stroke-width="0.8"/>
<polyline points="373.8,33.5 377.1,36.3 382.0,36.3" fill="none" stroke="#1a1a1a" stroke-width="0.8"/>
<polyline points="374.6,27.6 377.0,27.9 378.5,27.1" fill="none" stroke="#1a1a1a" stroke-width="0.8"/>
<polyline points="377.1,23.3 378.2,24.7 380.1,28.4" fill="none" stroke="#1a1a1a" stroke-width="0.8"/>
<polyline points="385.7,24.4 386.5,27.2 384.7,28.3" fill="none" stroke="#1a1a1a" stroke-width="0.8"/>
<polyline points="391.7,26.8 390.0,31.2 387.2,33.0" fill="none" stroke="#1a1a1a" stroke-width="0.8"/>
<polyline points="398.0,28.5 398.8,32.1 399.2,33.5" fill="none" stroke="#1a1a1a" stroke-width="0.8"/>
<polygon points="118.5,299.4 117.4,301.7 114.7,300.2 114.1,298.3 117.0,297.9" fill="#fafafa" stroke="#1a1a1a" stroke-width="0.8"/>
<polygon points="115.8,295.3 113.4,296.4 111.2,295.8 111.5,294.8 114.0,293.2" fill="#fafafa" stroke="#1a1a1a" stroke-width="0.8"/>
<polygon points="115.7,294.0 114.6,294.9 112.6,295.4 110.6,294.6 111.6,293.4 112.2,292.2 114.1,292.7" fill="#fafafa" stroke="#1a1a1a" stroke-width="0.8"/>
<polygon points="119.8,291.1 117.0,294.3 113.2,293.4 111.3,291.6 113.7,289.8 119.0,289.4" fill="#fafafa" stroke="#1a1a1a" stroke-width="0.8"/>
<polygon points="122.1,289.0 120.8,290.7 116.9,290.5 115.3,289.2 115.3,287.8 117.2,287.3 120.5,287.6" fill="#c8faaa" stroke="#1a1a1a" stroke-width="0.8"/>
<polygon points="121.4,287.2 118.8,288.0 117.1,288.1 114.6,286.2 116.8,285.8 118.9,285.5" fill="#fafafa" stroke="#1a1a1a" stroke-width="0.8"/>
<polygon points="117.8,282.4 116.1,283.4 112.8,284.1 111.6,282.5 112.0,281.2 113.9,280.2 116.5,279.6" fill="#fafafa" stroke="#1a1a1a" stroke-width="0.8"/>
<polygon points="118.3,281.7 117.9,282.3 116.4,282.8 116.1,282.3 115.8,281.5 116.3,280.7 118.5,281.3" fill="#fafafa" stroke="#1a1a1a" stroke-width="0.8"/>
<polygon points="124.0,281.3 122.0,282.4 119.4,282.3 117.7,281.1 120.3,280.1 122.0,280.4" fill="#c8faaa" stroke="#1a1a1a" stroke-width="0.8"/>
<polygon points="120.5,276.1 118.5,277.1 115.0,276.9 115.9,274.8 119.1,274.7" fill="#fafafa" stroke="#1a1a1a" stroke-width="0.8"/>
<polygon points="123.2,278.6 121.8,280.6 118.3,279.6 115.8,278.1 116.4,275.4 120.2,277.0" fill="#c8faaa" stroke="#1a1a1a" stroke-width="0.8"/>
<polygon points="122.9,276.1 119.5,277.5 116.1,277.4 115.3,274.2 120.7,274.0" fill="#fafafa" stroke="#1a1a1a" stroke-width="0.8"/>
<polygon points="119.7,271.5 118.5,273.0 116.2,272.5 115.9,271.0 118.1,270.7" fill="#fafafa" stroke="#1a1a1a" stroke-width="0.8"/>
<polygon points="125.1,267.6 123.8,270.2 119.4,269.5 117.3,266.7 122.8,265.7" fill="#fafafa" stroke="#1a1a1a" stroke-width="0.8"/>
<polygon points="123.7,264.8 124.0,267.4 119.7,267.3 118.7,265.6 117.4,264.6 120.1,263.8 123.7,263.6" fill="#fafafa" stroke="#1a1a1a" stroke-width="0.8"/>
<polygon points="120.6,261.9 119.3,263.0 117.0,262.7 117.4,261.5 119.3,261.2" fill="#c8faaa" stroke="#1a1a1a" stroke-width="0.8"/>
<polygon points="121.9,257.9 121.6,258.6 120.1,258.7 118.6,258.1 118.8,257.4 119.4,256.3 122.2,256.9" fill="#fafafa" stroke="#1a1a1a" stroke-width="0.8"/>
<polygon points="128.0,259.8 127.9,261.3 124.6,260.6 122.9,260.2 123.4,258.9 124.4,257.4 126.6,257.7" fill="#fafafa" stroke="#1a1a1a" stroke-width="0.8"/>
<polygon points="127.5,257.4 126.4,258.4 124.4,258.2 121.9,258.4 121.7,256.4 125.3,254.5 128.4,255.1" fill="#fafafa" stroke="#1a1a1a" stroke-width="0.8"/>
<polygon points="131.2,254.8 127.9,255.6 125.3,255.2 123.4,253.6 124.7,252.1 129.3,252.7" fill="#fafafa" stroke="#1a1a1a" stroke-width="0.8"/>
<polygon points="128.0,252.0 126.6,253.5 125.2,252.7 124.6,251.4 126.9,250.7" fill="#c8faaa" stroke="#1a1a1a" stroke-width="0.8"/>
<polygon points="130.1,250.7 128.8,252.6 124.9,251.7 124.7,249.2 129.1,249.4" fill="#fafafa" stroke="#1a1a1a" stroke-width="0.8"/>
<polygon points="126.5,242.3 123.7,244.3 119.9,245.0 120.1,241.2 123.1,241.3" fill="#fafafa" stroke="#1a1a1a" stroke-width="0.8"/>
<polygon points="130.5,243.7 128.6,245.2 127.2,246.0 126.0,244.0 126.9,242.8 129.2,242.0" fill="#fafafa" stroke="#1a1a1a" stroke-width="0.8"/>
<polygon points="132.2,240.7 129.5,242.8 125.3,241.8 126.6,239.7 130.3,239.4" fill="#c8faaa" stroke="#1a1a1a" stroke-width="0.8"/>
<polygon points="136.6,239.9 133.4,241.2 131.3,241.9 127.7,240.4 129.0,238.2 132.2,237.1 134.3,238.4" fill="#fafafa" stroke="#1a1a1a" stroke-width="0.8"/>
<polygon points="133.7,237.5 132.5,238.7 130.9,238.1 129.2,237.2 130.5,236.3 132.3,236.8" fill="#c8faaa" stroke="#1a1a1a" stroke-width="0.8"/>
<polygon points="137.8,230.3 135.6,231.7 133.5,231.8 132.3,230.8 133.3,229.2 135.6,229.9" fill="#fafafa" stroke="#1a1a1a" stroke-width="0.8"/>
<polygon points="137.9,230.2 137.0,231.1 135.6,230.6 135.8,229.5 137.8,229.0" fill="#fafafa" stroke="#1a1a1a" stroke-width="0.8"/>
<polygon points="142.7,230.7 140.8,233.0 138.8,231.6 136.6,229.8 137.2,228.1 141.2,228.5" fill="#fafafa" stroke="#1a1a1a" stroke-width="0.8"/>
<polygon points="144.4,229.1 144.5,230.7 142.6,231.1 140.7,229.7 140.3,228.3 142.4,228.2 143.6,228.3" fill="#c8faaa" stroke="#1a1a1a" stroke-width="0.8"/>
<polygon points="147.3,230.3 147.3,231.4 143.9,231.1 142.5,229.6 143.1,228.4 146.7,228.8" fill="#fafafa" stroke="#1a1a1a" stroke-width="0.8"/>
<polygon points="151.7,227.9 150.9,229.3 146.8,230.4 144.9,228.5 143.1,227.4 146.2,226.0 149.2,226.4" fill="#c8faaa" stroke="#1a1a1a" stroke-width="0.8"/>
<polygon points="152.6,228.2 150.5,229.4 148.0,229.2 148.1,227.4 150.2,227.2" fill="#fafafa" stroke="#1a1a1a" stroke-width="0.8"/>
<polygon points="155.3,226.5 152.3,227.9 148.4,227.1 149.0,225.1 152.0,222.9" fill="#fafafa" stroke="#1a1a1a" stroke-width="0.8"/>
<polygon points="156.9,222.3 154.0,225.2 150.3,224.1 149.4,220.9 152.9,221.0" fill="#c8faaa" stroke="#1a1a1a" stroke-width="0.8"/>
<polygon points="157.4,219.3 154.4,221.5 152.1,219.9 152.3,219.0 154.9,217.8" fill="#c8faaa" stroke="#1a1a1a" stroke-width="0.8"/>
<polygon points="158.4,219.6 157.6,220.4 154.8,220.3 155.6,219.2 157.4,218.3" fill="#fafafa" stroke="#1a1a1a" stroke-width="0.8"/>
<polygon points="161.3,220.1 161.3,220.8 159.7,220.7 159.3,219.9 159.3,219.1 160.5,219.3" fill="#c8faaa" stroke="#1a1a1a" stroke-width="0.8"/>
<polygon points="166.6,222.5 166.2,223.1 163.6,223.7 162.0,222.6 164.0,220.9 165.9,220.4" fill="#fafafa" stroke="#1a1a1a" stroke-width="0.8"/>
<polygon points="168.7,218.7 167.3,219.7 165.1,219.0 164.4,218.3 166.8,217.4" fill="#fafafa" stroke="#1a1a1a" stroke-width="0.8"/>
<polygon points="169.3,217.5 167.3,217.9 164.2,217.5 164.3,216.5 167.1,215.8" fill="#fafafa" stroke="#1a1a1a" stroke-width="0.8"/>
<polygon points="173.2,220.3 171.5,221.9 168.8,222.0 167.1,220.6 168.2,219.1 170.9,218.9" fill="#fafafa" stroke="#1a1a1a" stroke-width="0.8"/>
<polygon points="173.4,214.8 171.1,215.8 170.4,216.0 168.3,215.2 167.6,213.8 169.6,213.7 172.5,214.0" fill="#fafafa" stroke="#1a1a1a" stroke-width="0.8"/>
<polygon points="176.8,216.2 174.7,218.0 172.4,217.4 171.7,215.3 175.1,214.3" fill="#c8faaa" stroke="#1a1a1a" stroke-width="0.8"/>
<polygon points="178.3,213.6 177.2,215.4 176.0,215.2 173.4,214.7 172.8,212.2 176.1,212.3 176.8,212.7" fill="#fafafa" stroke="#1a1a1a" stroke-width="0.8"/>
<polygon points="180.2,213.0 178.9,214.0 176.2,214.1 176.1,212.9 176.7,212.2 178.3,212.1" fill="#fafafa" stroke="#1a1a1a" stroke-width="0.8"/>
<polygon points="180.9,213.5 180.7,214.4 178.7,215.2 177.5,214.6 177.9,213.5 179.3,212.5 180.6,212.6" fill="#c8faaa" stroke="#1a1a1a" stroke-width="0.8"/>
<polygon points="184.1,213.2 183.5,214.6 181.0,215.7 180.2,213.8 178.9,212.3 181.4,212.2 183.2,212.4" fill="#c8faaa" stroke="#1a1a1a" stroke-width="0.8"/>
<polygon points="184.6,209.0 182.8,210.8 179.9,209.7 178.5,207.4 182.5,206.1" fill="#c8faaa" stroke="#1a1a1a" stroke-width="0.8"/>
<polygon points="187.7,208.3 187.4,209.3 185.8,208.8 185.4,208.4 185.7,207.6 187.0,207.8" fill="#fafafa" stroke="#1a1a1a" stroke-width="0.8"/>
<polygon points="187.8,205.8 186.8,206.5 185.5,207.2 184.1,205.9 183.1,205.0 185.8,204.6 187.1,204.0" fill="#c8faaa" stroke="#1a1a1a" stroke-width="0.8"/>
<polygon points="195.0,208.1 192.6,211.6 187.7,211.3 186.3,208.6 188.1,207.0 191.9,207.4" fill="#c8faaa" stroke="#1a1a1a" stroke-width="0.8"/>
<polygon points="192.6,206.5 192.2,207.8 190.3,207.7 189.4,206.9 188.6,205.6 190.9,204.9 191.9,205.4" fill="#fafafa" stroke="#1a1a1a" stroke-width="0.8"/>
<polygon points="194.9,204.3 194.0,205.5 191.5,204.7 191.4,203.8 193.1,203.5" fill="#fafafa" stroke="#1a1a1a" stroke-width="0.8"/>
<polygon points="196.9,203.8 195.5,207.0 192.5,205.6 192.2,202.7 196.7,201.6" fill="#c8faaa" stroke="#1a1a1a" stroke-width="0.8"/>
<polygon points="199.6,203.0 198.2,204.4 195.8,204.2 192.4,204.0 194.0,202.2 196.2,200.8 198.0,201.1" fill="#fafafa" stroke="#1a1a1a" stroke-width="0.8"/>
<polygon points="199.0,199.0 196.6,200.1 191.9,199.9 193.3,197.5 198.1,196.1" fill="#fafafa" stroke="#1a1a1a" stroke-width="0.8"/>
<polygon points="200.4,196.5 197.4,198.4 194.3,198.3 192.5,197.4 193.4,195.2 197.4,194.9" fill="#c8faaa" stroke="#1a1a1a" stroke-width="0.8"/>
<polygon points="201.3,196.8 200.7,197.9 198.2,197.3 197.7,196.1 200.2,195.8" fill="#fafafa" stroke="#1a1a1a" stroke-width="0.8"/>
<polygon points="203.6,194.4 201.4,197.1 199.2,196.3 197.1,195.5 199.1,193.4 202.0,193.4" fill="#c8faaa" stroke="#1a1a1a" stroke-width="0.8"/>
<polygon points="207.8,193.4 206.8,195.3 202.9,194.4 202.1,192.0 205.9,191.5" fill="#fafafa" stroke="#1a1a1a" stroke-width="0.8"/>
<polygon points="208.0,190.6 207.1,191.5 204.8,192.4 204.6,191.1 203.8,189.7 205.4,189.1 207.2,189.9" fill="#fafafa" stroke="#1a1a1a" stroke-width="0.8"/>
<polygon points="212.3,192.4 210.2,192.5 208.1,193.5 205.8,192.5 207.4,191.0 209.1,189.8 210.1,190.4" fill="#fafafa" stroke="#1a1a1a" stroke-width="0.8"/>
<polygon points="212.2,186.5 210.3,188.8 207.2,188.9 205.3,187.2 204.4,185.9 205.9,184.1 208.9,185.4" fill="#fafafa" stroke="#1a1a1a" stroke-width="0.8"/>
<polygon points="213.1,185.8 212.0,186.9 210.8,186.7 210.0,184.9 212.0,184.3" fill="#fafafa" stroke="#1a1a1a" stroke-width="0.8"/>
<polygon points="212.7,183.7 212.2,184.2 210.8,185.8 207.2,183.9 207.8,182.0 209.8,182.0 212.1,181.2" fill="#fafafa" stroke="#1a1a1a" stroke-width="0.8"/>
<polygon points="214.2,183.3 214.0,184.5 211.9,184.0 211.6,183.1 212.3,181.8 213.5,182.0" fill="#fafafa" stroke="#1a1a1a" stroke-width="0.8"/>
<polygon points="219.7,180.3 217.1,181.7 215.9,182.3 214.4,181.0 214.2,180.0 216.4,179.3 218.3,179.8" fill="#fafafa" stroke="#1a1a1a" stroke-width="0.8"/>
<polygon points="220.6,178.5 219.4,179.6 218.6,179.4 216.5,179.4 216.7,177.4 218.0,177.0 219.6,177.5" fill="#fafafa" stroke="#1a1a1a" stroke-width="0.8"/>
<polygon points="225.2,178.1 224.3,180.9 219.6,181.1 218.3,179.6 216.3,177.7 220.7,175.6 223.1,176.4" fill="#c8faaa" stroke="#1a1a1a" stroke-width="0.8"/>
<polygon points="224.6,177.0 224.3,178.5 221.5,178.8 219.9,178.1 219.2,175.7 220.1,174.8 223.4,175.6" fill="#c8faaa" stroke="#1a1a1a" stroke-width="0.8"/>
<polygon points="226.8,173.0 225.0,175.2 222.5,174.0 222.1,172.4 224.2,171.4" fill="#fafafa" stroke="#1a1a1a" stroke-width="0.8"/>
<polygon points="230.0,175.1 226.7,176.8 222.6,175.6 221.8,173.6 227.6,172.5" fill="#c8faaa" stroke="#1a1a1a" stroke-width="0.8"/>
<polygon points="229.8,170.5 228.9,172.7 226.5,172.1 225.3,170.4 226.5,168.8 228.3,168.3" fill="#fafafa" stroke="#1a1a1a" stroke-width="0.8"/>
<polygon points="227.8,169.3 227.4,170.5 226.0,169.9 224.9,169.2 226.0,168.3 227.8,168.2" fill="#fafafa" stroke="#1a1a1a" stroke-width="0.8"/>
<polygon points="228.9,167.6 227.9,169.1 226.4,169.1 225.6,168.4 225.8,167.7 227.1,166.5 228.4,166.9" fill="#fafafa" stroke="#1a1a1a" stroke-width="0.8"/>
<polygon points="235.4,167.7 231.2,168.4 227.7,167.3 228.1,165.4 232.0,164.1" fill="#c8faaa" stroke="#1a1a1a" stroke-width="0.8"/>
<polygon points="234.0,161.8 232.0,163.2 229.3,163.5 228.6,162.2 229.4,160.6 231.2,160.5" fill="#fafafa" stroke="#1a1a1a" stroke-width="0.8"/>
<polygon points="233.7,160.7 232.4,162.0 229.9,162.3 228.4,160.5 229.5,159.4 232.6,159.9" fill="#fafafa" stroke="#1a1a1a" stroke-width="0.8"/>
<polygon points="234.9,158.4 232.6,160.0 230.1,159.9 229.8,157.5 233.3,157.8" fill="#c8faaa" stroke="#1a1a1a" stroke-width="0.8"/>
<polygon points="234.9,155.6 233.5,156.7 230.9,156.3 230.7,154.8 233.4,153.8" fill="#fafafa" stroke="#1a1a1a" stroke-width="0.8"/>
<polygon points="241.7,154.2 240.2,155.7 235.6,156.7 235.2,153.7 235.6,151.8 238.5,152.5" fill="#c8faaa" stroke="#1a1a1a" stroke-width="0.8"/>
<polygon points="238.5,149.6 237.8,150.4 235.6,150.4 235.0,149.4 235.6,148.8 237.2,149.0" fill="#fafafa" stroke="#1a1a1a" stroke-width="0.8"/>
<polygon points="241.6,149.2 240.9,151.9 235.7,150.8 234.3,149.8 236.0,148.1 239.5,148.1" fill="#c8faaa" stroke="#1a1a1a" stroke-width="0.8"/>
<polygon points="243.4,146.7 241.3,148.4 238.4,147.7 239.1,146.1 241.6,145.7" fill="#fafafa" stroke="#1a1a1a" stroke-width="0.8"/>
<polygon points="246.1,145.5 245.3,147.7 242.5,146.6 241.6,145.0 242.9,144.0 245.1,143.2" fill="#c8faaa" stroke="#1a1a1a" stroke-width="0.8"/>
<polygon points="247.6,145.0 246.7,145.6 245.2,145.7 243.3,145.2 243.9,144.2 244.4,144.0 246.8,143.8" fill="#c8faaa" stroke="#1a1a1a" stroke-width="0.8"/>
<polygon points="249.6,143.1 247.8,143.7 247.2,144.0 245.7,143.6 245.3,142.5 247.3,142.0 248.7,142.1" fill="#fafafa" stroke="#1a1a1a" stroke-width="0.8"/>
<polygon points="253.7,138.8 252.3,140.8 248.5,139.8 246.4,139.4 249.0,137.6 251.1,136.8" fill="#fafafa" stroke="#1a1a1a" stroke-width="0.8"/>
<polygon points="253.5,136.3 252.1,136.7 250.4,136.5 250.0,135.7 250.7,134.9 252.5,135.1" fill="#fafafa" stroke="#1a1a1a" stroke-width="0.8"/>
<polygon points="257.0,134.5 254.5,135.2 252.0,136.4 249.4,134.9 248.9,132.3 252.7,131.9 253.9,132.1" fill="#fafafa" stroke="#1a1a1a" stroke-width="0.8"/>
<polygon points="256.2,131.2 254.1,134.3 250.6,133.6 251.3,129.8 255.4,129.5" fill="#fafafa" stroke="#1a1a1a" stroke-width="0.8"/>
<polygon points="258.8,130.8 258.5,132.0 256.3,131.7 254.1,131.6 254.7,129.5 255.3,128.7 258.3,129.6" fill="#fafafa" stroke="#1a1a1a" stroke-width="0.8"/>
<polygon points="261.3,129.9 260.8,131.2 258.3,131.0 256.9,130.3 257.5,129.3 258.7,129.2 259.8,129.3" fill="#fafafa" stroke="#1a1a1a" stroke-width="0.8"/>
<polygon points="264.6,127.5 264.2,128.6 261.7,129.3 259.5,128.0 260.9,126.7 261.4,126.6 262.9,126.7" fill="#fafafa" stroke="#1a1a1a" stroke-width="0.8"/>
<polygon points="264.4,123.4 261.9,124.8 260.3,124.1 260.2,122.6 263.0,121.8" fill="#fafafa" stroke="#1a1a1a" stroke-width="0.8"/>
<polygon points="264.3,121.5 264.0,121.9 261.8,122.2 261.4,121.3 260.6,121.0 262.5,120.2 263.3,120.4" fill="#c8faaa" stroke="#1a1a1a" stroke-width="0.8"/>
<polygon points="267.2,122.1 266.1,123.8 262.2,122.9 262.5,121.1 265.9,121.2" fill="#c8faaa" stroke="#1a1a1a" stroke-width="0.8"/>
<polygon points="267.0,119.3 267.3,120.7 263.8,121.0 263.1,120.1 263.1,118.7 264.7,118.6 265.6,118.8" fill="#c8faaa" stroke="#1a1a1a" stroke-width="0.8"/>
<polygon points="271.4,117.4 271.2,119.2 266.5,120.2 265.7,117.7 266.4,115.5 269.5,115.3" fill="#c8faaa" stroke="#1a1a1a" stroke-width="0.8"/>
<polygon points="270.1,113.2 268.5,113.5 266.0,113.3 265.1,112.5 266.7,111.7 268.4,111.7" fill="#fafafa" stroke="#1a1a1a" stroke-width="0.8"/>
<polygon points="269.6,112.4 268.7,113.8 265.7,114.0 266.3,111.8 268.3,110.8" fill="#c8faaa" stroke="#1a1a1a" stroke-width="0.8"/>
<polygon points="274.6,108.6 271.9,111.4 269.1,109.8 267.7,108.1 272.1,106.7" fill="#fafafa" stroke="#1a1a1a" stroke-width="0.8"/>
<polygon points="277.4,107.7 275.0,109.7 272.3,109.7 268.9,108.1 270.9,106.3 276.6,105.7" fill="#fafafa" stroke="#1a1a1a" stroke-width="0.8"/>
<polygon points="277.8,106.1 277.1,107.1 276.0,107.8 274.6,106.6 274.2,105.9 275.8,105.3 276.8,104.8" fill="#fafafa" stroke="#1a1a1a" stroke-width="0.8"/>
<polygon points="277.5,104.8 276.2,105.8 274.8,106.4 272.3,105.8 273.3,104.3 273.3,103.0 276.3,104.0" fill="#fafafa" stroke="#1a1a1a" stroke-width="0.8"/>
<polygon points="280.3,102.4 279.1,103.9 275.9,102.9 275.9,100.4 278.4,100.7" fill="#fafafa" stroke="#1a1a1a" stroke-width="0.8"/>
<polygon points="281.3,99.5 279.6,100.5 274.0,100.9 274.1,99.3 275.9,97.4 278.3,97.9" fill="#fafafa" stroke="#1a1a1a" stroke-width="0.8"/>
<polygon points="281.2,99.3 279.6,99.9 279.0,100.1 277.8,99.9 277.6,99.0 278.6,98.3 280.1,97.6" fill="#c8faaa" stroke="#1a1a1a" stroke-width="0.8"/>
<polygon points="285.9,96.4 283.1,99.0 280.6,97.4 280.1,94.9 283.3,94.7" fill="#c8faaa" stroke="#1a1a1a" stroke-width="0.8"/>
<polygon points="283.3,94.5 281.7,96.0 279.6,95.8 277.8,94.8 278.9,93.1 281.0,93.1" fill="#c8faaa" stroke="#1a1a1a" stroke-width="0.8"/>
<polygon points="282.0,92.1 281.2,92.5 278.6,93.3 277.2,92.0 278.5,90.1 281.4,90.1" fill="#fafafa" stroke="#1a1a1a" stroke-width="0.8"/>
<polygon points="284.0,87.7 282.4,90.1 277.8,89.9 276.6,87.8 279.2,85.4 282.9,85.5" fill="#c8faaa" stroke="#1a1a1a" stroke-width="0.8"/>
<polygon points="283.7,85.2 282.0,86.0 279.3,86.4 277.4,84.7 278.0,83.4 282.4,83.7" fill="#fafafa" stroke="#1a1a1a" stroke-width="0.8"/>
<polygon points="283.7,83.6 282.6,84.8 280.0,84.9 280.2,83.2 280.3,81.9 282.4,82.6" fill="#fafafa" stroke="#1a1a1a" stroke-width="0.8"/>
<polygon points="285.4,81.1 284.0,83.0 281.7,82.8 279.6,82.4 280.5,80.4 281.1,79.6 284.2,79.3" fill="#c8faaa" stroke="#1a1a1a" stroke-width="0.8"/>
<polygon points="298.1,85.2 297.0,86.4 295.3,86.2 293.7,85.3 293.4,84.3 295.0,83.4 297.3,82.9" fill="#fafafa" stroke="#1a1a1a" stroke-width="0.8"/>
<polygon points="293.8,79.2 293.0,81.3 288.3,80.2 288.6,77.2 291.2,77.1" fill="#c8faaa" stroke="#1a1a1a" stroke-width="0.8"/>
<polygon points="295.9,77.8 294.8,79.9 291.0,79.9 287.4,80.5 288.0,77.2 290.3,75.3 294.8,76.2" fill="#fafafa" stroke="#1a1a1a" stroke-width="0.8"/>
<polygon points="298.9,78.8 297.6,80.2 296.3,81.0 294.5,79.6 294.0,78.9 295.6,77.9 298.1,78.1" fill="#fafafa" stroke="#1a1a1a" stroke-width="0.8"/>
<polygon points="303.5,76.1 300.6,78.3 296.4,78.5 296.2,74.8 300.5,74.7" fill="#fafafa" stroke="#1a1a1a" stroke-width="0.8"/>
<polygon points="303.6,77.1 303.4,78.2 301.4,78.4 300.2,77.3 300.3,76.4 301.5,75.8 302.9,75.4" fill="#fafafa" stroke="#1a1a1a" stroke-width="0.8"/>
<polygon points="303.3,71.3 300.0,72.9 298.2,74.0 294.5,72.9 294.1,70.6 298.1,69.7 300.3,70.2" fill="#c8faaa" stroke="#1a1a1a" stroke-width="0.8"/>
<polygon points="302.6,68.6 303.2,69.5 299.6,70.3 299.0,69.2 299.3,67.8 300.7,66.4 302.1,67.6" fill="#c8faaa" stroke="#1a1a1a" stroke-width="0.8"/>
<polygon points="305.0,67.2 302.6,69.3 300.1,68.2 299.7,67.4 300.2,65.6 302.5,65.9" fill="#c8faaa" stroke="#1a1a1a" stroke-width="0.8"/>
<polygon points="306.0,63.8 306.0,65.3 303.8,65.9 301.5,65.0 301.1,63.4 302.7,62.4 305.8,62.8" fill="#c8faaa" stroke="#1a1a1a" stroke-width="0.8"/>
<polygon points="313.3,66.0 313.9,67.5 308.6,67.7 306.1,67.8 307.6,65.0 308.8,64.2 312.1,64.6" fill="#c8faaa" stroke="#1a1a1a" stroke-width="0.8"/>
<polygon points="309.6,60.4 308.9,61.5 306.3,61.7 305.2,61.2 304.6,59.2 307.1,58.7 308.9,59.4" fill="#c8faaa" stroke="#1a1a1a" stroke-width="0.8"/>
<polygon points="309.8,58.8 309.0,59.6 306.7,60.0 306.4,59.0 307.1,57.7 309.5,58.0" fill="#fafafa" stroke="#1a1a1a" stroke-width="0.8"/>
<polygon points="314.8,56.7 313.1,58.2 309.6,57.5 309.5,55.2 311.9,55.3" fill="#fafafa" stroke="#1a1a1a" stroke-width="0.8"/>
<polygon points="316.9,59.4 316.4,60.9 313.1,61.0 311.3,59.6 313.7,57.0 316.3,57.6" fill="#c8faaa" stroke="#1a1a1a" stroke-width="0.8"/>
<polygon points="316.0,53.0 315.4,54.0 312.5,55.1 310.4,53.8 310.0,52.7 312.1,51.7 314.6,51.7" fill="#c8faaa" stroke="#1a1a1a" stroke-width="0.8"/>
<polygon points="317.4,50.8 316.3,51.1 314.9,51.3 314.0,51.0 313.5,50.1 315.1,49.9 316.6,49.7" fill="#c8faaa" stroke="#1a1a1a" stroke-width="0.8"/>
<polygon points="319.8,51.0 318.7,51.7 316.6,51.7 316.6,49.8 318.0,49.9" fill="#fafafa" stroke="#1a1a1a" stroke-width="0.8"/>
<polygon points="326.5,51.8 325.3,53.5 320.7,52.5 321.2,50.6 324.5,49.0" fill="#c8faaa" stroke="#1a1a1a" stroke-width="0.8"/>
<polygon points="328.3,44.5 325.5,46.8 322.7,47.4 321.0,46.1 321.6,44.3 323.9,42.9 327.1,43.1" fill="#fafafa" stroke="#1a1a1a" stroke-width="0.8"/>
<polygon points="333.5,48.6 330.9,49.9 328.7,49.4 328.2,48.4 330.8,47.5" fill="#fafafa" stroke="#1a1a1a" stroke-width="0.8"/>
<polygon points="334.7,49.1 331.5,50.0 328.6,49.8 328.3,46.7 332.8,46.2" fill="#fafafa" stroke="#1a1a1a" stroke-width="0.8"/>
<polygon points="332.6,41.8 330.2,44.2 325.8,43.2 325.6,40.8 328.9,39.9" fill="#fafafa" stroke="#1a1a1a" stroke-width="0.8"/>
<polygon points="334.7,40.1 330.7,41.5 328.0,40.8 327.9,38.4 331.5,38.8" fill="#fafafa" stroke="#1a1a1a" stroke-width="0.8"/>
<polygon points="332.1,36.9 331.9,37.7 330.8,38.2 329.6,37.4 329.9,36.6 330.8,36.1 331.8,36.3" fill="#fafafa" stroke="#1a1a1a" stroke-width="0.8"/>
<polygon points="340.0,46.0 338.1,46.5 334.4,47.1 333.7,45.6 334.1,43.8 338.2,43.5" fill="#c8faaa" stroke="#1a1a1a" stroke-width="0.8"/>
<polygon points="342.1,44.0 338.8,46.1 334.9,46.0 335.9,43.6 339.0,43.0" fill="#fafafa" stroke="#1a1a1a" stroke-width="0.8"/>
<polygon points="342.8,34.3 340.9,36.2 337.0,35.8 337.0,32.2 340.1,32.3" fill="#c8faaa" stroke="#1a1a1a" stroke-width="0.8"/>
<polygon points="345.6,33.7 344.4,35.0 341.6,34.5 339.7,32.9 340.1,31.5 343.5,31.2" fill="#c8faaa" stroke="#1a1a1a" stroke-width="0.8"/>
<polygon points="348.3,33.3 345.1,36.3 342.4,35.0 339.1,32.6 341.4,31.5 346.5,30.8" fill="#fafafa" stroke="#1a1a1a" stroke-width="0.8"/>
<polygon points="349.7,39.6 348.2,42.1 346.1,41.7 342.8,40.1 345.7,37.9 350.2,38.2" fill="#fafafa" stroke="#1a1a1a" stroke-width="0.8"/>
<polygon points="351.7,36.7 350.7,38.1 349.4,37.2 348.7,36.1 351.5,35.5" fill="#c8faaa" stroke="#1a1a1a" stroke-width="0.8"/>
<polygon points="353.4,31.8 352.1,33.6 347.9,32.7 345.4,31.5 348.7,29.8 352.3,29.8" fill="#fafafa" stroke="#1a1a1a" stroke-width="0.8"/>
<polygon points="357.2,33.5 357.4,35.4 353.1,35.2 352.1,33.9 353.4,31.3 356.6,31.0" fill="#fafafa" stroke="#1a1a1a" stroke-width="0.8"/>
<polygon points="355.1,27.6 353.3,29.7 350.8,28.2 349.6,25.9 352.9,26.3" fill="#fafafa" stroke="#1a1a1a" stroke-width="0.8"/>
<polygon points="363.0,34.2 360.1,35.6 357.8,34.5 357.9,32.6 360.8,32.6" fill="#c8faaa" stroke="#1a1a1a" stroke-width="0.8"/>
<polygon points="364.1,31.6 363.9,32.4 362.4,32.2 361.4,31.9 361.1,30.6 362.7,30.7 363.7,30.7" fill="#fafafa" stroke="#1a1a1a" stroke-width="0.8"/>
<polygon points="364.3,25.1 362.1,27.0 359.0,27.0 356.8,24.2 359.3,23.4 361.7,23.5" fill="#c8faaa" stroke="#1a1a1a" stroke-width="0.8"/>
<polygon points="368.7,23.4 366.0,26.1 359.8,25.2 361.5,21.9 366.3,20.3" fill="#fafafa" stroke="#1a1a1a" stroke-width="0.8"/>
<polygon points="368.4,22.7 368.9,24.3 365.0,23.4 363.6,22.3 365.0,21.1 367.4,19.5" fill="#fafafa" stroke="#1a1a1a" stroke-width="0.8"/>
<polygon points="374.4,26.0 372.3,28.0 369.0,26.8 369.1,24.5 371.9,23.9" fill="#c8faaa" stroke="#1a1a1a" stroke-width="0.8"/>
<polygon points="373.4,24.5 372.8,26.2 369.1,26.5 365.3,24.9 369.2,23.0 372.0,22.7" fill="#fafafa" stroke="#1a1a1a" stroke-width="0.8"/>
<polygon points="378.7,25.8 376.4,27.9 374.5,28.2 373.3,27.3 371.3,25.9 375.1,23.8 376.8,24.3" fill="#fafafa" stroke="#1a1a1a" stroke-width="0.8"/>
<polygon points="367.3,30.6 366.8,31.3 365.2,31.8 363.4,30.9 364.5,30.2 365.6,29.6 367.1,29.5" fill="#fafafa" stroke="#1a1a1a" stroke-width="0.8"/>
<polygon points="378.7,33.0 376.7,34.6 374.0,34.0 370.7,33.1 373.6,30.6 377.6,30.2" fill="#fafafa" stroke="#1a1a1a" stroke-width="0.8"/>
<polygon points="369.9,34.2 370.7,36.0 366.5,35.3 365.2,35.0 364.4,33.4 367.4,31.5 369.1,32.6" fill="#fafafa" stroke="#1a1a1a" stroke-width="0.8"/>
<polygon points="372.8,37.4 371.3,39.6 368.5,40.0 365.9,39.0 366.0,37.7 368.3,36.5 370.7,35.7" fill="#fafafa" stroke="#1a1a1a" stroke-width="0.8"/>
<polygon points="375.6,38.4 376.3,39.4 374.0,39.8 372.0,38.6 373.1,38.1 374.1,36.7 375.5,37.3" fill="#fafafa" stroke="#1a1a1a" stroke-width="0.8"/>
<polygon points="381.4,39.6 381.0,41.5 377.0,41.5 373.3,40.4 373.8,37.6 377.0,37.6 380.6,37.3" fill="#c8faaa" stroke="#1a1a1a" stroke-width="0.8"/>
<polygon points="380.1,36.2 377.1,38.1 372.9,36.9 371.4,34.7 376.9,33.7" fill="#c8faaa" stroke="#1a1a1a" stroke-width="0.8"/>
<polygon points="380.1,35.7 378.6,37.0 377.0,36.6 375.7,34.8 379.4,34.3" fill="#fafafa" stroke="#1a1a1a" stroke-width="0.8"/>
<polygon points="375.1,32.6 375.3,34.2 371.8,35.0 368.8,33.9 368.1,31.8 370.4,30.1 373.9,31.7" fill="#fafafa" stroke="#1a1a1a" stroke-width="0.8"/>
<polygon points="374.7,29.2 373.6,30.3 370.4,30.6 369.4,29.5 371.1,28.5 373.4,27.5" fill="#fafafa" stroke="#1a1a1a" stroke-width="0.8"/>
<polygon points="373.5,28.2 371.3,29.4 368.4,28.7 369.2,27.2 371.8,26.8" fill="#c8faaa" stroke="#1a1a1a" stroke-width="0.8"/>
<polygon points="385.5,26.0 382.0,28.7 378.2,29.3 377.8,26.1 378.0,24.8 383.8,24.1" fill="#c8faaa" stroke="#1a1a1a" stroke-width="0.8"/>
<polygon points="378.5,27.2 376.9,29.3 374.1,27.6 374.6,26.3 377.9,25.5" fill="#c8faaa" stroke="#1a1a1a" stroke-width="0.8"/>
<polygon points="380.0,21.1 380.0,22.6 376.0,23.2 375.1,21.5 375.7,20.2 376.4,19.5 378.8,19.4" fill="#fafafa" stroke="#1a1a1a" stroke-width="0.8"/>
<polygon points="387.2,19.9 385.5,21.1 384.3,21.4 382.0,20.9 381.6,19.5 383.5,18.5 385.4,19.0" fill="#fafafa" stroke="#1a1a1a" stroke-width="0.8"/>
<polygon points="388.7,22.2 387.7,23.8 384.7,24.3 382.3,22.4 383.1,20.5 386.4,20.6" fill="#c8faaa" stroke="#1a1a1a" stroke-width="0.8"/>
<polygon points="390.4,22.6 387.7,23.4 384.8,24.2 382.7,22.8 384.1,21.1 386.4,20.4 387.9,20.8" fill="#fafafa" stroke="#1a1a1a" stroke-width="0.8"/>
<polygon points="390.3,24.0 389.7,25.2 387.7,25.5 387.4,24.8 387.2,24.0 388.6,23.3 389.4,23.5" fill="#c8faaa" stroke="#1a1a1a" stroke-width="0.8"/>
<polygon points="389.5,30.3 388.5,31.6 387.0,30.9 385.2,30.7 386.3,29.2 388.5,29.4" fill="#c8faaa" stroke="#1a1a1a" stroke-width="0.8"/>
<polygon points="392.9,30.3 393.4,31.5 389.5,32.0 387.8,31.4 387.8,28.6 390.3,28.0 392.7,28.9" fill="#fafafa" stroke="#1a1a1a" stroke-width="0.8"/>
<polygon points="399.3,24.8 398.7,25.9 395.8,25.7 394.9,25.0 394.5,24.4 395.7,23.6 398.4,23.9" fill="#c8faaa" stroke="#1a1a1a" stroke-width="0.8"/>
<polygon points="401.8,33.8 398.7,35.1 395.4,35.8 392.3,32.7 395.2,31.7 398.0,32.0" fill="#fafafa" stroke="#1a1a1a" stroke-width="0.8"/>
<polygon points="401.7,30.0 399.9,31.7 397.8,31.5 396.2,30.2 397.8,29.0 399.2,29.3" fill="#fafafa" stroke="#1a1a1a" stroke-width="0.8"/>
<polygon points="408.0,26.3 405.6,29.0 401.6,29.0 399.4,26.8 401.1,25.2 405.6,24.8" fill="#c8faaa" stroke="#1a1a1a" stroke-width="0.8"/>
<polygon points="35.0,270.0 36.0,265.0 38.0,258.0 40.0,254.0 42.0,252.0 45.0,251.0 48.0,249.0 50.0,249.0 49.0,252.0 46.0,255.0 43.0,258.0 41.0,262.0 38.0,267.0" fill="#fafafa" stroke="#1a1a1a" stroke-width="0.8"/>
<polygon points="244.5,109.0 247.0,104.5 252.0,101.5 258.0,98.0 264.0,95.0 268.0,91.0 271.5,86.0 275.0,80.5 278.5,75.0 282.0,71.5 284.0,73.0 282.0,78.0 279.0,84.0 276.5,89.5 272.5,95.0 267.0,99.0 261.0,102.0 255.0,105.0 249.5,108.0 246.0,110.5" fill="#f4f4f4" stroke="#1a1a1a" stroke-width="0.9"/>
<polygon points="270.0,84.0 274.0,79.0 279.0,75.5 284.0,76.0 287.0,80.0 285.0,86.0 281.0,90.5 276.0,92.0 272.0,90.0" fill="#c8faaa" stroke="#1a1a1a" stroke-width="0.9"/>
<polygon points="311.0,312.0 316.0,310.0 320.0,313.0 318.0,318.0 313.0,318.0" fill="#f4f4f4" stroke="#1a1a1a" stroke-width="0.9"/>
<polygon points="347.8,345.2 355.3,344.0 357.9,350.3 352.8,352.8 347.8,350.3" fill="#f4f4f4" stroke="#1a1a1a" stroke-width="0.9"/>
<polyline points="340.0,86.0 334.0,75.7 327.2,74.6 323.8,80.2 320.5,82.4 318.2,88.0 318.2,93.7 316.0,98.1 309.3,95.9 303.7,93.7 298.0,94.8 294.7,102.6 290.0,110.0 284.0,118.0 278.1,126.7 273.5,135.9 268.9,145.0 262.8,151.2 258.2,155.7 256.7,163.4 253.6,175.6 250.6,184.8 247.5,194.0 249.0,200.1 247.5,206.2 241.4,212.3 235.3,218.4 229.2,227.6 224.6,239.8 219.8,242.6 218.5,255.2 222.0,269.9 223.6,278.0 218.5,288.0 216.0,300.7 213.5,313.3 205.9,323.4 203.4,331.0 202.1,338.5 198.0,343.0" fill="none" stroke="#3c2818" stroke-width="1.2" stroke-linejoin="round"/>
<polyline points="323.8,80.2 332.6,86.8 338.9,91.5 343.7,96.2 348.0,100.0 351.5,106.0 353.5,115.0 355.0,125.0 357.5,138.0 358.8,150.5 361.3,158.0" fill="none" stroke="#3c2818" stroke-width="1.2" stroke-linejoin="round"/>
<polyline points="340.0,86.0 346.8,83.6 351.5,85.2 356.3,86.8 361.0,88.4 365.7,85.2 368.9,80.5 370.5,74.2 369.7,66.3 370.5,58.4 373.6,53.7 380.0,52.0 386.2,50.5 389.4,52.0 394.1,55.2 397.3,58.4 398.9,61.5 400.4,67.9 398.9,74.2 397.3,77.3 395.7,82.0 395.7,86.8 398.9,93.1 406.0,98.0 411.0,106.0 413.8,115.7 411.2,123.3 408.7,130.9 413.8,141.0 421.3,151.0 424.0,160.0 424.0,170.5 429.0,178.0 432.0,186.0 435.0,195.0 435.0,205.0 440.0,213.0 450.5,220.0 455.5,228.0 453.0,240.6 448.0,250.7 443.0,260.8 437.9,270.9 430.0,281.0 422.7,291.0 419.0,297.6" fill="none" stroke="#3c2818" stroke-width="1.2" stroke-linejoin="round"/>
<polyline points="397.3,77.3 398.9,72.6 402.0,66.3 405.2,61.5 408.3,56.8 411.5,53.7 413.0,50.0" fill="none" stroke="#3c2818" stroke-width="1.2" stroke-linejoin="round"/>
<polyline points="426.0,325.7 424.1,335.1 422.2,342.7 424.1,354.0 426.0,363.5 429.8,371.1 431.7,376.8 433.6,384.4 435.5,395.7 437.4,410.0 440.2,418.0 442.7,417.8" fill="none" stroke="#3c2818" stroke-width="1.2" stroke-linejoin="round"/>
<polyline points="380.6,373.0 388.1,369.2 395.7,370.2 403.3,374.9 410.9,380.6 418.4,379.6 426.0,380.6 431.7,382.0" fill="none" stroke="#3c2818" stroke-width="1.2" stroke-linejoin="round"/>
<polyline points="333.5,421.0 338.9,418.1 348.4,417.2 357.9,418.1 367.3,417.2 376.8,416.2 386.2,414.3 391.9,413.4 395.7,418.1 403.3,421.9 410.9,425.7 418.4,429.5 426.0,425.7 433.6,421.9 440.2,418.0" fill="none" stroke="#3c2818" stroke-width="1.2" stroke-linejoin="round"/>
<polyline points="420.0,372.3 430.1,377.4 437.7,387.5 440.2,400.1 442.7,412.7 445.2,417.8 457.9,417.8 470.5,420.3 483.1,420.3 488.1,427.9 490.7,437.9 488.1,448.0 493.2,457.0" fill="none" stroke="#3c2818" stroke-width="1.2" stroke-linejoin="round"/>
<polyline points="442.7,417.8 440.2,427.9 437.7,443.0 435.1,453.1 434.0,457.0" fill="none" stroke="#3c2818" stroke-width="1.2" stroke-linejoin="round"/>
<polyline points="440.2,427.9 432.6,432.9 420.0,430.4" fill="none" stroke="#3c2818" stroke-width="1.2" stroke-linejoin="round"/>
<polyline points="133.5,441.0 140.0,440.0 148.0,441.0 156.0,442.0" fill="none" stroke="#3c2818" stroke-width="1.2" stroke-linejoin="round"/>
</g>
<rect x="6" y="60" width="1" height="7" fill="#40ffff"/><rect x="6" y="67" width="1" height="8" fill="#3264ff"/>
<rect x="6" y="283" width="1" height="5" fill="#222"/><rect x="6" y="296" width="1.2" height="161" fill="#009600"/>
<polyline points="95,3 98,1 100,0" fill="none" stroke="#fff" stroke-width="1.2"/>
<rect x="555" y="0" width="34" height="1" fill="#32c8ff"/>
<rect x="108" y="455.6" width="103" height="1.4" fill="#00b000"/><rect x="233.5" y="455.6" width="8.5" height="1.4" fill="#00b000"/><rect x="260.5" y="455.6" width="7" height="1.4" fill="#00b000"/>
<g font-family="Liberation Sans, DejaVu Sans, sans-serif" font-size="9" fill="#000" font-weight="bold" text-anchor="end" transform="scale(1.14,1)">
<text x="302.83" y="56.8">−1</text>
<text x="314.44" y="56.1">−0</text>
<text x="326.02" y="55.0">−0</text>
<text x="337.57" y="53.6">−3</text>
<text x="349.09" y="51.9">−2</text>
<text x="267.14" y="83.6">−0</text>
<text x="279.35" y="83.9">−0</text>
<text x="291.58" y="83.9">−5</text>
<text x="303.79" y="83.5">−5</text>
<text x="316.00" y="82.7">−4</text>
<text x="328.18" y="81.6">−4</text>
<text x="340.33" y="80.2">−4</text>
<text x="352.45" y="78.3">−2</text>
<text x="364.52" y="76.2">−2</text>
<text x="376.54" y="73.6">−2</text>
<text x="388.50" y="70.8">−2</text>
<text x="400.39" y="67.5">−0</text>
<text x="412.20" y="64.0">−0</text>
<text x="253.48" y="109.6">−2</text>
<text x="266.29" y="110.3">−4</text>
<text x="279.11" y="110.6">−7</text>
<text x="291.93" y="110.6">−5</text>
<text x="304.75" y="110.2">−5</text>
<text x="317.55" y="109.4">−6</text>
<text x="330.34" y="108.2">−6</text>
<text x="343.09" y="106.7">−3</text>
<text x="355.80" y="104.8">−5</text>
<text x="368.47" y="102.5">−4</text>
<text x="381.08" y="99.9">−2</text>
<text x="393.63" y="96.8">−5</text>
<text x="406.11" y="93.5">−3</text>
<text x="418.50" y="89.7">−5</text>
<text x="430.81" y="85.6">−5</text>
<text x="443.02" y="81.1">−5</text>
<text x="238.64" y="135.1">−1</text>
<text x="252.03" y="136.2">−2</text>
<text x="265.44" y="137.0">−4</text>
<text x="278.86" y="137.3">−8</text>
<text x="292.29" y="137.3">−4</text>
<text x="305.71" y="136.9">−3</text>
<text x="319.11" y="136.0">−3</text>
<text x="332.50" y="134.8">−3</text>
<text x="345.85" y="133.2">−5</text>
<text x="359.16" y="131.2">−6</text>
<text x="372.42" y="128.8">−8</text>
<text x="385.63" y="126.1">−6</text>
<text x="411.82" y="119.4">−5</text>
<text x="424.80" y="115.4">−5</text>
<text x="437.69" y="111.1">−6</text>
<text x="450.47" y="106.5">−7</text>
<text x="463.14" y="101.4">−8</text>
<text x="222.63" y="160.1">−2</text>
<text x="236.59" y="161.7">−4</text>
<text x="250.58" y="162.9">−4</text>
<text x="264.59" y="163.7">−4</text>
<text x="278.61" y="164.1">−2</text>
<text x="292.64" y="164.0">−2</text>
<text x="306.67" y="163.6">−4</text>
<text x="320.67" y="162.7">−5</text>
<text x="334.66" y="161.4">−6</text>
<text x="348.61" y="159.8">−6</text>
<text x="376.37" y="155.2">−5</text>
<text x="390.17" y="152.3">−4</text>
<text x="403.90" y="149.0">−5</text>
<text x="417.54" y="145.3">−5</text>
<text x="219.98" y="186.6">−2</text>
<text x="234.54" y="188.3">−3</text>
<text x="249.13" y="189.6">−4</text>
<text x="263.74" y="190.4">−5</text>
<text x="278.37" y="190.8">−4</text>
<text x="293.00" y="190.7">−2</text>
<text x="336.82" y="188.0">−4</text>
<text x="351.37" y="186.3">−5</text>
<text x="365.87" y="184.1">−5</text>
<text x="380.32" y="181.5">−5</text>
<text x="394.71" y="178.5">−5</text>
<text x="409.03" y="175.1">−5</text>
<text x="423.26" y="171.2">−5</text>
<text x="451.44" y="162.2">−2</text>
<text x="479.18" y="151.6">0</text>
<text x="492.87" y="145.7">−3</text>
<text x="506.41" y="139.4">−3</text>
<text x="519.81" y="132.7">−3</text>
<text x="533.05" y="125.6">−2</text>
<text x="187.16" y="208.4">1</text>
<text x="202.22" y="211.0">1</text>
<text x="217.33" y="213.2">0</text>
<text x="232.49" y="214.9">−4</text>
<text x="247.68" y="216.2">−3</text>
<text x="262.89" y="217.1">−4</text>
<text x="278.12" y="217.5">−2</text>
<text x="323.79" y="216.0">−3</text>
<text x="338.98" y="214.7">−4</text>
<text x="354.13" y="212.8">−5</text>
<text x="369.23" y="210.6">−5</text>
<text x="384.28" y="207.9">−4</text>
<text x="399.26" y="204.7">−4</text>
<text x="414.16" y="201.1">−4</text>
<text x="428.98" y="197.1">−4</text>
<text x="443.70" y="192.7">−2</text>
<text x="472.83" y="182.5">−4</text>
<text x="487.21" y="176.7">−4</text>
<text x="501.45" y="170.6">−3</text>
<text x="515.55" y="164.0">−2</text>
<text x="529.50" y="157.0">−2</text>
<text x="543.29" y="149.6">−2</text>
<text x="167.73" y="231.5">1</text>
<text x="183.32" y="234.7">1</text>
<text x="198.97" y="237.5">0</text>
<text x="214.68" y="239.7">−4</text>
<text x="230.44" y="241.6">−2</text>
<text x="246.23" y="242.9">−2</text>
<text x="262.04" y="243.8">−3</text>
<text x="309.54" y="243.7">−4</text>
<text x="325.35" y="242.7">−5</text>
<text x="341.14" y="241.3">−5</text>
<text x="356.88" y="239.4">−4</text>
<text x="372.58" y="237.0">−4</text>
<text x="388.23" y="234.2">−4</text>
<text x="403.80" y="230.9">−4</text>
<text x="419.29" y="227.2">−4</text>
<text x="434.70" y="223.0">−3</text>
<text x="450.01" y="218.4">−3</text>
<text x="465.20" y="213.3">−2</text>
<text x="480.28" y="207.8">−2</text>
<text x="495.23" y="201.8">−2</text>
<text x="510.04" y="195.4">−2</text>
<text x="524.70" y="188.6">−1</text>
<text x="539.20" y="181.4">−2</text>
<text x="553.53" y="173.7">−1</text>
<text x="513.80" y="16.7">−2</text>
<text x="490.73" y="59.7">−3</text>
<text x="502.33" y="53.5">−4</text>
<text x="536.26" y="32.8">−4</text>
<text x="547.24" y="25.3">−4</text>
<text x="500.42" y="84.0">−5</text>
<text x="524.57" y="70.7">−1</text>
<text x="536.42" y="63.5">−3</text>
<text x="548.09" y="55.9">−6</text>
<text x="484.28" y="120.8">−4</text>
<text x="497.27" y="114.8">−6</text>
<text x="510.11" y="108.4">−5</text>
<text x="522.81" y="101.6">−3</text>
<text x="535.35" y="94.4">−3</text>
<text x="547.72" y="86.9">−2</text>
<text x="546.13" y="118.1">−0</text>
<text x="131.19" y="249.8">1</text>
<text x="147.19" y="254.0">−0</text>
<text x="163.29" y="257.8">−7</text>
<text x="179.47" y="261.1">−5</text>
<text x="195.72" y="263.9">−6</text>
<text x="212.03" y="266.3">−5</text>
<text x="228.38" y="268.2">−3</text>
<text x="244.78" y="269.6">−2</text>
<text x="310.50" y="270.4">−3</text>
<text x="326.91" y="269.4">−4</text>
<text x="343.30" y="267.9">−4</text>
<text x="359.64" y="265.9">−4</text>
<text x="375.94" y="263.5">−3</text>
<text x="392.18" y="260.5">−3</text>
<text x="408.34" y="257.1">−4</text>
<text x="424.43" y="253.3">−2</text>
<text x="440.42" y="248.9">−2</text>
<text x="456.31" y="244.1">−0</text>
<text x="472.08" y="238.9">−1</text>
<text x="487.73" y="233.1">−3</text>
<text x="503.25" y="226.9">−2</text>
<text x="518.62" y="220.3">−2</text>
<text x="533.84" y="213.2">−2</text>
<text x="548.89" y="205.7">−1</text>
<text x="125.57" y="275.7">−1</text>
<text x="142.17" y="280.1">−2</text>
<text x="158.86" y="284.0">−6</text>
<text x="175.63" y="287.5">−4</text>
<text x="192.47" y="290.4">−2</text>
<text x="209.38" y="292.8">−4</text>
<text x="226.33" y="294.8">−2</text>
<text x="243.33" y="296.2">−2</text>
<text x="311.45" y="297.1">−1</text>
<text x="328.47" y="296.0">−2</text>
<text x="345.46" y="294.5">−3</text>
<text x="362.40" y="292.4">−3</text>
<text x="379.30" y="289.9">0</text>
<text x="396.13" y="286.9">1</text>
<text x="429.56" y="279.3">−1</text>
<text x="446.14" y="274.8">−2</text>
<text x="478.96" y="264.4">−2</text>
<text x="495.18" y="258.5">−2</text>
<text x="511.27" y="252.1">−2</text>
<text x="527.21" y="245.2">−1</text>
<text x="542.98" y="237.8">−2</text>
<text x="137.14" y="306.2">−7</text>
<text x="154.42" y="310.3">−4</text>
<text x="171.79" y="313.8">−2</text>
<text x="189.23" y="316.9">−1</text>
<text x="206.73" y="319.4">−2</text>
<text x="224.28" y="321.4">−2</text>
<text x="241.87" y="322.9">−1</text>
<text x="259.50" y="323.9">−1</text>
<text x="330.03" y="322.7">−1</text>
<text x="400.08" y="313.2">0</text>
<text x="434.69" y="305.4">−1</text>
<text x="451.86" y="300.8">−2</text>
<text x="468.91" y="295.6">−2</text>
<text x="485.84" y="289.9">−1</text>
<text x="502.64" y="283.8">−1</text>
<text x="519.29" y="277.2">−1</text>
<text x="535.79" y="270.0">−1</text>
<text x="552.12" y="262.4">−1</text>
<text x="132.12" y="332.3">−5</text>
<text x="149.98" y="336.5">−1</text>
<text x="185.98" y="343.3">−0</text>
<text x="222.23" y="348.0">−1</text>
<text x="240.42" y="349.6">−0</text>
<text x="331.59" y="349.3">0</text>
<text x="349.78" y="347.7">−0</text>
<text x="367.92" y="345.5">1</text>
<text x="386.01" y="342.8">1</text>
<text x="404.03" y="339.5">−1</text>
<text x="421.97" y="335.8">−1</text>
<text x="439.83" y="331.5">−1</text>
<text x="457.58" y="326.7">−1</text>
<text x="475.21" y="321.3">−1</text>
<text x="492.72" y="315.5">−0</text>
<text x="510.09" y="309.1">−1</text>
<text x="527.31" y="302.3">−1</text>
<text x="544.37" y="294.9">−0</text>
<text x="127.09" y="358.4">1</text>
<text x="182.73" y="369.8">1</text>
<text x="201.43" y="372.5">0</text>
<text x="220.18" y="374.6">−0</text>
<text x="238.97" y="376.2">0</text>
<text x="351.94" y="374.3">1</text>
<text x="370.68" y="372.0">0</text>
<text x="198.78" y="399.0">1</text>
<text x="218.13" y="401.3">0</text>
<text x="315.29" y="403.9">1</text>
<text x="354.10" y="400.9">0</text>
<text x="136.67" y="415.2">2</text>
<text x="196.13" y="425.6">2</text>
<text x="316.24" y="430.6">1</text>
<text x="336.27" y="429.3">1</text>
<text x="356.26" y="427.5">0</text>
<text x="132.24" y="441.5">4</text>
<text x="317.20" y="457.2">1</text>
<text x="337.83" y="456.0">1</text>
<text x="358.41" y="454.1">0</text>
<text x="389.37" y="369.2">−0</text>
<text x="407.98" y="365.9">−1</text>
<text x="426.52" y="362.0">0</text>
<text x="444.96" y="357.6">−0</text>
<text x="463.29" y="352.6">−0</text>
<text x="481.51" y="347.1">−0</text>
<text x="499.60" y="341.0">−0</text>
<text x="517.54" y="334.5">−0</text>
<text x="535.33" y="327.4">−0</text>
<text x="373.44" y="398.6">0</text>
<text x="392.72" y="395.7">0</text>
<text x="411.93" y="392.2">0</text>
<text x="431.06" y="388.2">−0</text>
<text x="450.09" y="383.6">−0</text>
<text x="469.01" y="378.5">0</text>
<text x="487.81" y="372.8">0</text>
<text x="506.48" y="366.6">0</text>
<text x="525.00" y="359.8">0</text>
<text x="543.35" y="352.5">0</text>
<text x="376.20" y="425.1">0</text>
<text x="396.08" y="422.1">0</text>
<text x="415.88" y="418.6">0</text>
<text x="435.60" y="414.4">0</text>
<text x="455.22" y="409.7">0</text>
<text x="474.73" y="404.4">−0</text>
<text x="494.11" y="398.6">0</text>
<text x="513.36" y="392.1">1</text>
<text x="532.45" y="385.1">1</text>
<text x="551.38" y="377.6">1</text>
<text x="378.96" y="451.6">0</text>
<text x="399.43" y="448.6">0</text>
<text x="419.84" y="444.9">1</text>
<text x="440.15" y="440.6">0</text>
<text x="460.36" y="435.8">0</text>
<text x="480.45" y="430.3">1</text>
<text x="500.41" y="424.3">1</text>
<text x="520.24" y="417.7">2</text>
<text x="539.90" y="410.5">2</text>
<text x="486.17" y="456.2">2</text>
<text x="506.72" y="450.0">2</text>
<text x="527.11" y="443.2">2</text>
<text x="547.35" y="435.8">2</text>
</g>
<polygon points="17,478 28,472 28,483" fill="#646464"/>
<rect x="28.00" y="472" width="7.22" height="11" fill="#878787"/>
<rect x="34.92" y="472" width="7.22" height="11" fill="#aaaaaa"/>
<rect x="41.85" y="472" width="7.22" height="11" fill="#cdcdcd"/>
<rect x="48.77" y="472" width="7.22" height="11" fill="#e4e4e4"/>
<rect x="55.70" y="472" width="7.22" height="11" fill="#6e2d78"/>
<rect x="62.62" y="472" width="7.22" height="11" fill="#a032aa"/>
<rect x="69.55" y="472" width="7.22" height="11" fill="#c832d2"/>
<rect x="76.47" y="472" width="7.22" height="11" fill="#ff28ff"/>
<rect x="83.39" y="472" width="7.22" height="11" fill="#ff96ff"/>
<rect x="90.32" y="472" width="7.22" height="11" fill="#1400d2"/>
<rect x="97.24" y="472" width="7.22" height="11" fill="#3264ff"/>
<rect x="104.17" y="472" width="7.22" height="11" fill="#3296ff"/>
<rect x="111.09" y="472" width="7.22" height="11" fill="#32c8ff"/>
<rect x="118.02" y="472" width="7.22" height="11" fill="#40ffff"/>
<rect x="124.94" y="472" width="7.22" height="11" fill="#007800"/>
<rect x="131.86" y="472" width="7.22" height="11" fill="#009600"/>
<rect x="138.79" y="472" width="7.22" height="11" fill="#00b400"/>
<rect x="145.71" y="472" width="7.22" height="11" fill="#00d200"/>
<rect x="152.64" y="472" width="7.22" height="11" fill="#00eb00"/>
<rect x="159.56" y="472" width="7.22" height="11" fill="#ffff32"/>
<rect x="166.49" y="472" width="7.22" height="11" fill="#ffe63c"/>
<rect x="173.41" y="472" width="7.22" height="11" fill="#ffd746"/>
<rect x="180.34" y="472" width="7.22" height="11" fill="#ffc83c"/>
<rect x="187.26" y="472" width="7.22" height="11" fill="#ffb432"/>
<rect x="194.18" y="472" width="7.22" height="11" fill="#ffa500"/>
<rect x="201.11" y="472" width="7.22" height="11" fill="#ff9100"/>
<rect x="208.03" y="472" width="7.22" height="11" fill="#ff6e00"/>
<rect x="214.96" y="472" width="7.22" height="11" fill="#ff0000"/>
<rect x="221.88" y="472" width="7.22" height="11" fill="#eb0000"/>
<rect x="228.81" y="472" width="7.22" height="11" fill="#d70000"/>
<rect x="235.73" y="472" width="7.22" height="11" fill="#c80000"/>
<rect x="242.65" y="472" width="7.22" height="11" fill="#b40000"/>
<rect x="249.58" y="472" width="7.22" height="11" fill="#a00000"/>
<rect x="256.50" y="472" width="7.22" height="11" fill="#8c0000"/>
<rect x="263.43" y="472" width="7.22" height="11" fill="#78000a"/>
<rect x="270.35" y="472" width="7.22" height="11" fill="#5f000a"/>
<rect x="277.28" y="472" width="7.22" height="11" fill="#46000a"/>
<polygon points="284.2,472 292,478 284.2,483" fill="#280000"/>
<g font-family="Liberation Sans, sans-serif" font-size="12" fill="#000">
<text x="10.6" y="491" >−28</text>
<text x="48.5" y="491" >−22</text>
<text x="80.4" y="491" >−10</text>
<text x="120.5" y="491" >0</text>
<text x="155.9" y="491" >12</text>
<text x="204.4" y="491" >26</text>
<text x="254" y="491" >38</text>
<text x="282.5" y="491" >48</text>
</g>
<text x="0.5" y="470" font-family="Liberation Mono, monospace" font-size="13.5" fill="#000">Ground Temp (0−10cm) [°C] GFS</text>
<text x="364" y="470" font-family="Liberation Mono, monospace" font-size="14" fill="#000">We 19−11−2025 06:00 UTC (06+144)</text>
<text x="487" y="485" font-family="DejaVu Sans, sans-serif" font-size="11.2" fill="#2832c8">©weatheronline.co.uk</text>
</svg>
</body></html>
